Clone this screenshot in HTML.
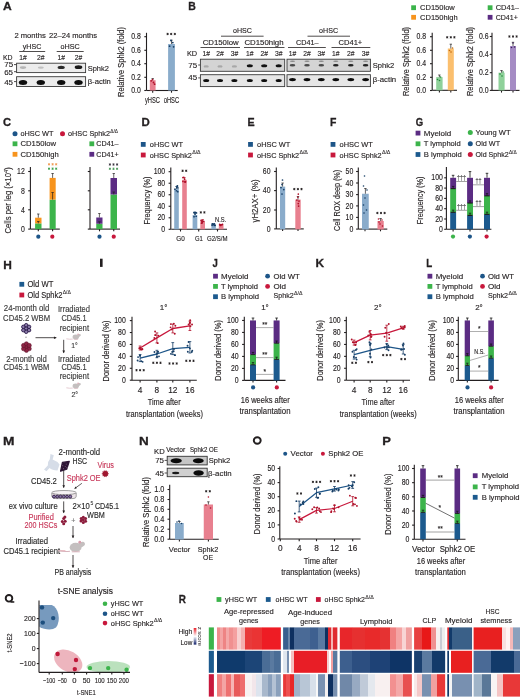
<!DOCTYPE html><html><head><meta charset="utf-8"><style>html,body{margin:0;padding:0;background:#fff;width:520px;height:699px;overflow:hidden}svg{display:block;filter:blur(0.3px)}text{font-family:"Liberation Sans", sans-serif}</style></head><body>
<svg width="520" height="699" viewBox="0 0 520 699" fill="#231f20" font-family='"Liberation Sans", sans-serif'>
<rect width="520" height="699" fill="#fff"/>
<text x="3.14" y="9.50" font-size="11.2" font-weight="bold" stroke="#231f20" stroke-width="0.3" textLength="8.73" lengthAdjust="spacingAndGlyphs">A</text>
<text x="14.40" y="38.27" font-size="7.96" stroke="#231f20" stroke-width="0.14" textLength="31.40" lengthAdjust="spacingAndGlyphs">2 months</text>
<text x="49.00" y="38.27" font-size="7.96" stroke="#231f20" stroke-width="0.14" textLength="48.10" lengthAdjust="spacingAndGlyphs">22–24 months</text>
<text x="22.70" y="49.37" font-size="7.96" stroke="#231f20" stroke-width="0.14" textLength="18.60" lengthAdjust="spacingAndGlyphs">yHSC</text>
<text x="60.60" y="49.37" font-size="7.96" stroke="#231f20" stroke-width="0.14" textLength="19.20" lengthAdjust="spacingAndGlyphs">oHSC</text>
<line x1="19.20" y1="51.50" x2="45.20" y2="51.50" stroke="#231f20" stroke-width="0.8" />
<line x1="56.70" y1="51.50" x2="83.70" y2="51.50" stroke="#231f20" stroke-width="0.8" />
<text x="2.90" y="60.37" font-size="7.96" stroke="#231f20" stroke-width="0.14" textLength="9.60" lengthAdjust="spacingAndGlyphs">KD</text>
<text x="23.00" y="60.37" font-size="7.96" text-anchor="middle" stroke="#231f20" stroke-width="0.14" textLength="7.50" lengthAdjust="spacingAndGlyphs">1#</text>
<text x="40.80" y="60.37" font-size="7.96" text-anchor="middle" stroke="#231f20" stroke-width="0.14" textLength="7.50" lengthAdjust="spacingAndGlyphs">2#</text>
<text x="61.20" y="60.37" font-size="7.96" text-anchor="middle" stroke="#231f20" stroke-width="0.14" textLength="7.50" lengthAdjust="spacingAndGlyphs">1#</text>
<text x="78.50" y="60.37" font-size="7.96" text-anchor="middle" stroke="#231f20" stroke-width="0.14" textLength="7.50" lengthAdjust="spacingAndGlyphs">2#</text>
<text x="13.20" y="67.42" font-size="7.96" text-anchor="end" stroke="#231f20" stroke-width="0.14">75</text>
<text x="13.00" y="74.52" font-size="7.96" text-anchor="end" stroke="#231f20" stroke-width="0.14">65</text>
<text x="13.00" y="84.62" font-size="7.96" text-anchor="end" stroke="#231f20" stroke-width="0.14">45</text>
<line x1="14.00" y1="64.60" x2="16.90" y2="64.60" stroke="#231f20" stroke-width="0.8" />
<line x1="14.00" y1="71.70" x2="16.90" y2="71.70" stroke="#231f20" stroke-width="0.8" />
<line x1="14.00" y1="81.60" x2="16.90" y2="81.60" stroke="#231f20" stroke-width="0.8" />
<rect x="16.60" y="63.20" width="69.00" height="9.40" fill="#ececec" stroke="#3a3a3a" stroke-width="0.9" />
<ellipse cx="23.00" cy="67.60" rx="3.20" ry="1.30" fill="#b5b5b5" />
<ellipse cx="40.80" cy="67.60" rx="3.00" ry="1.20" fill="#c0c0c0" />
<ellipse cx="61.20" cy="67.40" rx="3.60" ry="1.70" fill="#2a2a2a" />
<ellipse cx="78.50" cy="67.20" rx="3.80" ry="1.90" fill="#1a1a1a" />
<rect x="16.60" y="76.70" width="69.00" height="9.80" fill="#ececec" stroke="#3a3a3a" stroke-width="0.9" />
<ellipse cx="23.00" cy="82.40" rx="4.20" ry="2.50" fill="#0e0e0e" />
<ellipse cx="40.80" cy="82.40" rx="4.20" ry="2.50" fill="#0e0e0e" />
<ellipse cx="61.20" cy="82.40" rx="4.20" ry="2.50" fill="#0e0e0e" />
<ellipse cx="78.50" cy="82.40" rx="4.20" ry="2.50" fill="#0e0e0e" />
<text x="87.70" y="70.57" font-size="7.96" stroke="#231f20" stroke-width="0.14" textLength="21.20" lengthAdjust="spacingAndGlyphs">Sphk2</text>
<text x="87.70" y="84.37" font-size="7.96" stroke="#231f20" stroke-width="0.14" textLength="23.20" lengthAdjust="spacingAndGlyphs">β-actin</text>
<line x1="146.50" y1="32.80" x2="146.50" y2="90.50" stroke="#231f20" stroke-width="1.1" />
<line x1="144.30" y1="90.50" x2="146.50" y2="90.50" stroke="#231f20" stroke-width="1.1" />
<text x="140.80" y="93.18" font-size="8.28" text-anchor="end" stroke="#231f20" stroke-width="0.14" textLength="9.60" lengthAdjust="spacingAndGlyphs">0.0</text>
<line x1="144.30" y1="77.30" x2="146.50" y2="77.30" stroke="#231f20" stroke-width="1.1" />
<text x="140.80" y="79.98" font-size="8.28" text-anchor="end" stroke="#231f20" stroke-width="0.14" textLength="9.60" lengthAdjust="spacingAndGlyphs">0.2</text>
<line x1="144.30" y1="63.70" x2="146.50" y2="63.70" stroke="#231f20" stroke-width="1.1" />
<text x="140.80" y="66.38" font-size="8.28" text-anchor="end" stroke="#231f20" stroke-width="0.14" textLength="9.60" lengthAdjust="spacingAndGlyphs">0.4</text>
<line x1="144.30" y1="50.30" x2="146.50" y2="50.30" stroke="#231f20" stroke-width="1.1" />
<text x="140.80" y="52.98" font-size="8.28" text-anchor="end" stroke="#231f20" stroke-width="0.14" textLength="9.60" lengthAdjust="spacingAndGlyphs">0.6</text>
<line x1="144.30" y1="36.70" x2="146.50" y2="36.70" stroke="#231f20" stroke-width="1.1" />
<text x="140.80" y="39.38" font-size="8.28" text-anchor="end" stroke="#231f20" stroke-width="0.14" textLength="9.60" lengthAdjust="spacingAndGlyphs">0.8</text>
<line x1="146.50" y1="90.50" x2="177.70" y2="90.50" stroke="#231f20" stroke-width="1.1" />
<line x1="152.70" y1="90.50" x2="152.70" y2="92.70" stroke="#231f20" stroke-width="1.1" />
<line x1="171.50" y1="90.50" x2="171.50" y2="92.70" stroke="#231f20" stroke-width="1.1" />
<rect x="149.80" y="80.20" width="5.80" height="10.30" fill="#e8808f" />
<rect x="168.10" y="44.00" width="6.80" height="46.50" fill="#8aaccb" />
<line x1="152.70" y1="78.60" x2="152.70" y2="80.20" stroke="#231f20" stroke-width="0.7" />
<line x1="151.50" y1="78.60" x2="153.90" y2="78.60" stroke="#231f20" stroke-width="0.7" />
<line x1="171.50" y1="40.20" x2="171.50" y2="44.00" stroke="#231f20" stroke-width="0.7" />
<line x1="170.30" y1="40.20" x2="172.70" y2="40.20" stroke="#231f20" stroke-width="0.7" />
<circle cx="151.20" cy="80.80" r="0.90" fill="#b0102a"/>
<circle cx="153.50" cy="82.50" r="0.90" fill="#b0102a"/>
<circle cx="154.60" cy="84.20" r="0.90" fill="#b0102a"/>
<circle cx="152.50" cy="79.60" r="0.90" fill="#b0102a"/>
<circle cx="169.60" cy="46.20" r="0.90" fill="#163e66"/>
<circle cx="173.60" cy="46.80" r="0.90" fill="#163e66"/>
<circle cx="171.00" cy="40.50" r="0.90" fill="#163e66"/>
<circle cx="172.80" cy="42.60" r="0.90" fill="#163e66"/>
<path d="M167.60,32.85L167.60,35.15M168.60,33.42L166.60,34.58M168.60,34.58L166.60,33.42" stroke="#231f20" stroke-width="0.85" fill="none"/>
<path d="M171.20,32.85L171.20,35.15M172.20,33.42L170.20,34.58M172.20,34.58L170.20,33.42" stroke="#231f20" stroke-width="0.85" fill="none"/>
<path d="M174.80,32.85L174.80,35.15M175.80,33.42L173.80,34.58M175.80,34.58L173.80,33.42" stroke="#231f20" stroke-width="0.85" fill="none"/>
<text x="152.40" y="103.00" font-size="8.61" text-anchor="middle" stroke="#231f20" stroke-width="0.14" textLength="15.00" lengthAdjust="spacingAndGlyphs">yHSC</text>
<text x="171.40" y="103.00" font-size="8.61" text-anchor="middle" stroke="#231f20" stroke-width="0.14" textLength="15.40" lengthAdjust="spacingAndGlyphs">oHSC</text>
<text x="0" y="0" transform="translate(124.35,62.00) rotate(-90)" font-size="8.6" text-anchor="middle" stroke="#231f20" stroke-width="0.14" textLength="70.00" lengthAdjust="spacingAndGlyphs">Relative Sphk2 (fold)</text>
<text x="188.24" y="9.50" font-size="11.2" font-weight="bold" stroke="#231f20" stroke-width="0.3" textLength="7.59" lengthAdjust="spacingAndGlyphs">B</text>
<text x="242.50" y="33.37" font-size="7.96" text-anchor="middle" stroke="#231f20" stroke-width="0.14" textLength="19.00" lengthAdjust="spacingAndGlyphs">oHSC</text>
<line x1="221.00" y1="36.20" x2="263.60" y2="36.20" stroke="#231f20" stroke-width="0.8" />
<text x="202.70" y="44.57" font-size="7.96" stroke="#231f20" stroke-width="0.14" textLength="35.90" lengthAdjust="spacingAndGlyphs">CD150low</text>
<text x="244.40" y="44.57" font-size="7.96" stroke="#231f20" stroke-width="0.14" textLength="39.20" lengthAdjust="spacingAndGlyphs">CD150high</text>
<line x1="200.50" y1="47.50" x2="240.00" y2="47.50" stroke="#231f20" stroke-width="0.8" />
<line x1="244.00" y1="47.50" x2="284.50" y2="47.50" stroke="#231f20" stroke-width="0.8" />
<text x="328.60" y="33.37" font-size="7.96" text-anchor="middle" stroke="#231f20" stroke-width="0.14" textLength="19.00" lengthAdjust="spacingAndGlyphs">oHSC</text>
<line x1="307.50" y1="36.20" x2="350.00" y2="36.20" stroke="#231f20" stroke-width="0.8" />
<text x="296.00" y="44.57" font-size="7.96" stroke="#231f20" stroke-width="0.14" textLength="22.50" lengthAdjust="spacingAndGlyphs">CD41–</text>
<text x="338.50" y="44.57" font-size="7.96" stroke="#231f20" stroke-width="0.14" textLength="23.80" lengthAdjust="spacingAndGlyphs">CD41+</text>
<line x1="288.00" y1="47.50" x2="325.80" y2="47.50" stroke="#231f20" stroke-width="0.8" />
<line x1="331.50" y1="47.50" x2="370.30" y2="47.50" stroke="#231f20" stroke-width="0.8" />
<text x="186.90" y="55.97" font-size="7.96" stroke="#231f20" stroke-width="0.14" textLength="10.20" lengthAdjust="spacingAndGlyphs">KD</text>
<text x="206.20" y="55.87" font-size="7.96" text-anchor="middle" stroke="#231f20" stroke-width="0.14" textLength="7.50" lengthAdjust="spacingAndGlyphs">1#</text>
<text x="220.00" y="55.87" font-size="7.96" text-anchor="middle" stroke="#231f20" stroke-width="0.14" textLength="7.50" lengthAdjust="spacingAndGlyphs">2#</text>
<text x="234.40" y="55.87" font-size="7.96" text-anchor="middle" stroke="#231f20" stroke-width="0.14" textLength="7.50" lengthAdjust="spacingAndGlyphs">3#</text>
<text x="249.80" y="55.87" font-size="7.96" text-anchor="middle" stroke="#231f20" stroke-width="0.14" textLength="7.50" lengthAdjust="spacingAndGlyphs">1#</text>
<text x="264.20" y="55.87" font-size="7.96" text-anchor="middle" stroke="#231f20" stroke-width="0.14" textLength="7.50" lengthAdjust="spacingAndGlyphs">2#</text>
<text x="278.70" y="55.87" font-size="7.96" text-anchor="middle" stroke="#231f20" stroke-width="0.14" textLength="7.50" lengthAdjust="spacingAndGlyphs">3#</text>
<text x="292.50" y="55.87" font-size="7.96" text-anchor="middle" stroke="#231f20" stroke-width="0.14" textLength="7.50" lengthAdjust="spacingAndGlyphs">1#</text>
<text x="307.00" y="55.87" font-size="7.96" text-anchor="middle" stroke="#231f20" stroke-width="0.14" textLength="7.50" lengthAdjust="spacingAndGlyphs">2#</text>
<text x="321.30" y="55.87" font-size="7.96" text-anchor="middle" stroke="#231f20" stroke-width="0.14" textLength="7.50" lengthAdjust="spacingAndGlyphs">3#</text>
<text x="335.80" y="55.87" font-size="7.96" text-anchor="middle" stroke="#231f20" stroke-width="0.14" textLength="7.50" lengthAdjust="spacingAndGlyphs">1#</text>
<text x="350.80" y="55.87" font-size="7.96" text-anchor="middle" stroke="#231f20" stroke-width="0.14" textLength="7.50" lengthAdjust="spacingAndGlyphs">2#</text>
<text x="365.60" y="55.87" font-size="7.96" text-anchor="middle" stroke="#231f20" stroke-width="0.14" textLength="7.50" lengthAdjust="spacingAndGlyphs">3#</text>
<text x="197.20" y="67.57" font-size="7.96" text-anchor="end" stroke="#231f20" stroke-width="0.14">75</text>
<text x="197.20" y="80.47" font-size="7.96" text-anchor="end" stroke="#231f20" stroke-width="0.14">45</text>
<line x1="198.20" y1="65.00" x2="200.40" y2="65.00" stroke="#231f20" stroke-width="0.8" />
<line x1="198.20" y1="77.90" x2="200.40" y2="77.90" stroke="#231f20" stroke-width="0.8" />
<rect x="200.40" y="59.20" width="84.30" height="12.10" fill="#d4d4d4" stroke="#3a3a3a" stroke-width="0.9" />
<rect x="200.40" y="74.70" width="84.30" height="11.90" fill="#e6e6e6" stroke="#3a3a3a" stroke-width="0.9" />
<rect x="287.00" y="59.20" width="83.40" height="12.10" fill="#d4d4d4" stroke="#3a3a3a" stroke-width="0.9" />
<rect x="287.00" y="74.70" width="83.40" height="11.90" fill="#e6e6e6" stroke="#3a3a3a" stroke-width="0.9" />
<ellipse cx="206.20" cy="66.40" rx="2.60" ry="1.20" fill="#a8a8a8" />
<ellipse cx="206.20" cy="80.60" rx="3.00" ry="1.50" fill="#0e0e0e" />
<ellipse cx="220.00" cy="66.40" rx="2.60" ry="1.20" fill="#a8a8a8" />
<ellipse cx="220.00" cy="80.60" rx="3.00" ry="1.50" fill="#0e0e0e" />
<ellipse cx="234.40" cy="66.40" rx="2.60" ry="1.20" fill="#a8a8a8" />
<ellipse cx="234.40" cy="80.60" rx="3.00" ry="1.50" fill="#0e0e0e" />
<ellipse cx="249.80" cy="65.80" rx="3.00" ry="1.50" fill="#111" />
<ellipse cx="249.80" cy="80.60" rx="3.00" ry="1.50" fill="#0e0e0e" />
<ellipse cx="264.20" cy="65.80" rx="3.00" ry="1.50" fill="#111" />
<ellipse cx="264.20" cy="80.60" rx="3.00" ry="1.50" fill="#0e0e0e" />
<ellipse cx="278.70" cy="65.80" rx="3.00" ry="1.50" fill="#111" />
<ellipse cx="278.70" cy="80.60" rx="3.00" ry="1.50" fill="#0e0e0e" />
<ellipse cx="292.50" cy="61.20" rx="2.60" ry="0.70" fill="#8a8a8a" />
<ellipse cx="292.50" cy="65.20" rx="2.80" ry="1.30" fill="#4a4a4a" />
<ellipse cx="292.50" cy="79.60" rx="3.40" ry="1.70" fill="#0a0a0a" />
<ellipse cx="307.00" cy="61.20" rx="2.60" ry="0.70" fill="#8a8a8a" />
<ellipse cx="307.00" cy="65.20" rx="2.80" ry="1.30" fill="#4a4a4a" />
<ellipse cx="307.00" cy="79.60" rx="3.40" ry="1.70" fill="#0a0a0a" />
<ellipse cx="321.30" cy="61.20" rx="2.60" ry="0.70" fill="#8a8a8a" />
<ellipse cx="321.30" cy="65.20" rx="2.80" ry="1.30" fill="#4a4a4a" />
<ellipse cx="321.30" cy="79.60" rx="3.40" ry="1.70" fill="#0a0a0a" />
<ellipse cx="335.80" cy="61.20" rx="2.60" ry="0.70" fill="#8a8a8a" />
<ellipse cx="335.80" cy="65.20" rx="2.80" ry="1.30" fill="#222" />
<ellipse cx="335.80" cy="79.60" rx="3.40" ry="1.70" fill="#0a0a0a" />
<ellipse cx="350.80" cy="61.20" rx="2.60" ry="0.70" fill="#8a8a8a" />
<ellipse cx="350.80" cy="65.20" rx="2.80" ry="1.30" fill="#222" />
<ellipse cx="350.80" cy="79.60" rx="3.40" ry="1.70" fill="#0a0a0a" />
<ellipse cx="365.60" cy="61.20" rx="2.60" ry="0.70" fill="#8a8a8a" />
<ellipse cx="365.60" cy="65.20" rx="2.80" ry="1.30" fill="#222" />
<ellipse cx="365.60" cy="79.60" rx="3.40" ry="1.70" fill="#0a0a0a" />
<text x="372.70" y="67.77" font-size="7.96" stroke="#231f20" stroke-width="0.14" textLength="21.50" lengthAdjust="spacingAndGlyphs">Sphk2</text>
<text x="372.70" y="82.37" font-size="7.96" stroke="#231f20" stroke-width="0.14" textLength="23.50" lengthAdjust="spacingAndGlyphs">β-actin</text>
<rect x="411.20" y="5.30" width="4.80" height="4.80" fill="#3cb44b" />
<text x="420.00" y="10.07" font-size="7.96" stroke="#231f20" stroke-width="0.14" textLength="34.80" lengthAdjust="spacingAndGlyphs">CD150low</text>
<rect x="411.20" y="14.90" width="4.80" height="4.80" fill="#f7941d" />
<text x="420.00" y="19.67" font-size="7.96" stroke="#231f20" stroke-width="0.14" textLength="37.70" lengthAdjust="spacingAndGlyphs">CD150high</text>
<rect x="487.70" y="5.30" width="4.80" height="4.80" fill="#3cb44b" />
<text x="495.70" y="10.07" font-size="7.96" stroke="#231f20" stroke-width="0.14" textLength="23.30" lengthAdjust="spacingAndGlyphs">CD41–</text>
<rect x="487.70" y="14.90" width="4.80" height="4.80" fill="#5b2c83" />
<text x="495.70" y="19.67" font-size="7.96" stroke="#231f20" stroke-width="0.14" textLength="22.10" lengthAdjust="spacingAndGlyphs">CD41+</text>
<line x1="432.20" y1="32.80" x2="432.20" y2="90.30" stroke="#231f20" stroke-width="1.1" />
<line x1="430.00" y1="90.50" x2="432.20" y2="90.50" stroke="#231f20" stroke-width="1.1" />
<text x="426.10" y="93.18" font-size="8.28" text-anchor="end" stroke="#231f20" stroke-width="0.14" textLength="9.60" lengthAdjust="spacingAndGlyphs">0.0</text>
<line x1="430.00" y1="77.30" x2="432.20" y2="77.30" stroke="#231f20" stroke-width="1.1" />
<text x="426.10" y="79.98" font-size="8.28" text-anchor="end" stroke="#231f20" stroke-width="0.14" textLength="9.60" lengthAdjust="spacingAndGlyphs">0.2</text>
<line x1="430.00" y1="63.70" x2="432.20" y2="63.70" stroke="#231f20" stroke-width="1.1" />
<text x="426.10" y="66.38" font-size="8.28" text-anchor="end" stroke="#231f20" stroke-width="0.14" textLength="9.60" lengthAdjust="spacingAndGlyphs">0.4</text>
<line x1="430.00" y1="50.30" x2="432.20" y2="50.30" stroke="#231f20" stroke-width="1.1" />
<text x="426.10" y="52.98" font-size="8.28" text-anchor="end" stroke="#231f20" stroke-width="0.14" textLength="9.60" lengthAdjust="spacingAndGlyphs">0.6</text>
<line x1="430.00" y1="36.70" x2="432.20" y2="36.70" stroke="#231f20" stroke-width="1.1" />
<text x="426.10" y="39.38" font-size="8.28" text-anchor="end" stroke="#231f20" stroke-width="0.14" textLength="9.60" lengthAdjust="spacingAndGlyphs">0.8</text>
<line x1="432.20" y1="90.30" x2="457.00" y2="90.30" stroke="#231f20" stroke-width="1.1" />
<line x1="439.40" y1="90.30" x2="439.40" y2="92.50" stroke="#231f20" stroke-width="1.1" />
<line x1="450.80" y1="90.30" x2="450.80" y2="92.50" stroke="#231f20" stroke-width="1.1" />
<rect x="436.20" y="77.10" width="6.40" height="13.20" fill="#8fd19a" />
<rect x="447.80" y="48.50" width="6.00" height="41.80" fill="#fbbf6e" />
<line x1="439.40" y1="75.00" x2="439.40" y2="77.10" stroke="#231f20" stroke-width="0.7" />
<line x1="438.20" y1="75.00" x2="440.60" y2="75.00" stroke="#231f20" stroke-width="0.7" />
<line x1="450.80" y1="44.20" x2="450.80" y2="48.50" stroke="#231f20" stroke-width="0.7" />
<line x1="449.60" y1="44.20" x2="452.00" y2="44.20" stroke="#231f20" stroke-width="0.7" />
<circle cx="437.50" cy="79.50" r="0.80" fill="#23883a"/>
<circle cx="440.50" cy="77.00" r="0.80" fill="#23883a"/>
<circle cx="439.50" cy="80.50" r="0.80" fill="#23883a"/>
<circle cx="449.50" cy="50.50" r="0.80" fill="#c26a0c"/>
<circle cx="452.50" cy="48.00" r="0.80" fill="#c26a0c"/>
<circle cx="451.00" cy="52.00" r="0.80" fill="#c26a0c"/>
<path d="M447.20,36.15L447.20,38.45M448.20,36.72L446.20,37.88M448.20,37.88L446.20,36.72" stroke="#231f20" stroke-width="0.85" fill="none"/>
<path d="M450.80,36.15L450.80,38.45M451.80,36.72L449.80,37.88M451.80,37.88L449.80,36.72" stroke="#231f20" stroke-width="0.85" fill="none"/>
<path d="M454.40,36.15L454.40,38.45M455.40,36.72L453.40,37.88M455.40,37.88L453.40,36.72" stroke="#231f20" stroke-width="0.85" fill="none"/>
<text x="0" y="0" transform="translate(409.30,61.50) rotate(-90)" font-size="8.6" text-anchor="middle" stroke="#231f20" stroke-width="0.14" textLength="69.00" lengthAdjust="spacingAndGlyphs">Relative Sphk2 (fold)</text>
<line x1="492.00" y1="32.80" x2="492.00" y2="90.30" stroke="#231f20" stroke-width="1.1" />
<line x1="489.80" y1="90.40" x2="492.00" y2="90.40" stroke="#231f20" stroke-width="1.1" />
<text x="488.60" y="93.08" font-size="8.28" text-anchor="end" stroke="#231f20" stroke-width="0.14" textLength="9.60" lengthAdjust="spacingAndGlyphs">0.0</text>
<line x1="489.80" y1="72.70" x2="492.00" y2="72.70" stroke="#231f20" stroke-width="1.1" />
<text x="488.60" y="75.38" font-size="8.28" text-anchor="end" stroke="#231f20" stroke-width="0.14" textLength="9.60" lengthAdjust="spacingAndGlyphs">0.2</text>
<line x1="489.80" y1="54.40" x2="492.00" y2="54.40" stroke="#231f20" stroke-width="1.1" />
<text x="488.60" y="57.08" font-size="8.28" text-anchor="end" stroke="#231f20" stroke-width="0.14" textLength="9.60" lengthAdjust="spacingAndGlyphs">0.4</text>
<line x1="489.80" y1="36.50" x2="492.00" y2="36.50" stroke="#231f20" stroke-width="1.1" />
<text x="488.60" y="39.18" font-size="8.28" text-anchor="end" stroke="#231f20" stroke-width="0.14" textLength="9.60" lengthAdjust="spacingAndGlyphs">0.6</text>
<line x1="492.00" y1="90.40" x2="519.50" y2="90.40" stroke="#231f20" stroke-width="1.1" />
<line x1="501.50" y1="90.40" x2="501.50" y2="92.60" stroke="#231f20" stroke-width="1.1" />
<line x1="513.00" y1="90.40" x2="513.00" y2="92.60" stroke="#231f20" stroke-width="1.1" />
<rect x="498.50" y="72.70" width="6.10" height="17.70" fill="#8fd19a" />
<rect x="510.00" y="46.00" width="6.00" height="44.40" fill="#a58cc4" />
<line x1="501.50" y1="70.50" x2="501.50" y2="72.70" stroke="#231f20" stroke-width="0.7" />
<line x1="500.30" y1="70.50" x2="502.70" y2="70.50" stroke="#231f20" stroke-width="0.7" />
<line x1="513.00" y1="42.30" x2="513.00" y2="46.00" stroke="#231f20" stroke-width="0.7" />
<line x1="511.80" y1="42.30" x2="514.20" y2="42.30" stroke="#231f20" stroke-width="0.7" />
<circle cx="500.00" cy="74.00" r="0.80" fill="#23883a"/>
<circle cx="503.00" cy="72.00" r="0.80" fill="#23883a"/>
<circle cx="502.00" cy="76.00" r="0.80" fill="#23883a"/>
<circle cx="511.50" cy="47.50" r="0.80" fill="#3d1e5e"/>
<circle cx="514.50" cy="47.00" r="0.80" fill="#3d1e5e"/>
<circle cx="513.00" cy="43.00" r="0.80" fill="#3d1e5e"/>
<path d="M509.40,35.35L509.40,37.65M510.40,35.92L508.40,37.08M510.40,37.08L508.40,35.92" stroke="#231f20" stroke-width="0.85" fill="none"/>
<path d="M513.00,35.35L513.00,37.65M514.00,35.92L512.00,37.08M514.00,37.08L512.00,35.92" stroke="#231f20" stroke-width="0.85" fill="none"/>
<path d="M516.60,35.35L516.60,37.65M517.60,35.92L515.60,37.08M517.60,37.08L515.60,35.92" stroke="#231f20" stroke-width="0.85" fill="none"/>
<text x="0" y="0" transform="translate(473.30,61.50) rotate(-90)" font-size="8.6" text-anchor="middle" stroke="#231f20" stroke-width="0.14" textLength="69.00" lengthAdjust="spacingAndGlyphs">Relative Sphk2 (fold)</text>
<text x="2.99" y="126.40" font-size="11.2" font-weight="bold" stroke="#231f20" stroke-width="0.3" textLength="8.08" lengthAdjust="spacingAndGlyphs">C</text>
<circle cx="15.00" cy="133.75" r="2.50" fill="#1d5588"/>
<text x="20.50" y="136.32" font-size="7.96" stroke="#231f20" stroke-width="0.14" textLength="33.00" lengthAdjust="spacingAndGlyphs">oHSC WT</text>
<circle cx="62.50" cy="133.75" r="2.50" fill="#c8183c"/>
<text x="68.00" y="136.32" font-size="7.96" stroke="#231f20" stroke-width="0.14"><tspan textLength="42.00" lengthAdjust="spacingAndGlyphs">oHSC Sphk2</tspan><tspan font-size="4.776" dy="-3.18" dx="0.3" stroke-width="0.08">Δ/Δ</tspan></text>
<rect x="12.60" y="141.40" width="4.80" height="4.80" fill="#3cb44b" />
<text x="20.50" y="146.32" font-size="7.96" stroke="#231f20" stroke-width="0.14" textLength="35.50" lengthAdjust="spacingAndGlyphs">CD150low</text>
<rect x="12.60" y="151.90" width="4.80" height="4.80" fill="#f7941d" />
<text x="20.50" y="156.82" font-size="7.96" stroke="#231f20" stroke-width="0.14" textLength="38.30" lengthAdjust="spacingAndGlyphs">CD150high</text>
<rect x="89.40" y="141.40" width="4.80" height="4.80" fill="#3cb44b" />
<text x="96.30" y="146.32" font-size="7.96" stroke="#231f20" stroke-width="0.14" textLength="22.30" lengthAdjust="spacingAndGlyphs">CD41–</text>
<rect x="89.40" y="151.90" width="4.80" height="4.80" fill="#5b2c83" />
<text x="96.30" y="156.82" font-size="7.96" stroke="#231f20" stroke-width="0.14" textLength="22.30" lengthAdjust="spacingAndGlyphs">CD41+</text>
<line x1="30.40" y1="167.00" x2="30.40" y2="229.10" stroke="#231f20" stroke-width="1.1" />
<line x1="28.20" y1="229.10" x2="30.40" y2="229.10" stroke="#231f20" stroke-width="1.1" />
<text x="24.80" y="231.86" font-size="8.5" text-anchor="end" stroke="#231f20" stroke-width="0.14" textLength="3.85" lengthAdjust="spacingAndGlyphs">0</text>
<line x1="28.20" y1="209.80" x2="30.40" y2="209.80" stroke="#231f20" stroke-width="1.1" />
<text x="24.80" y="212.56" font-size="8.5" text-anchor="end" stroke="#231f20" stroke-width="0.14" textLength="3.85" lengthAdjust="spacingAndGlyphs">4</text>
<line x1="28.20" y1="190.80" x2="30.40" y2="190.80" stroke="#231f20" stroke-width="1.1" />
<text x="24.80" y="193.56" font-size="8.5" text-anchor="end" stroke="#231f20" stroke-width="0.14" textLength="3.85" lengthAdjust="spacingAndGlyphs">8</text>
<line x1="28.20" y1="171.50" x2="30.40" y2="171.50" stroke="#231f20" stroke-width="1.1" />
<text x="24.80" y="174.26" font-size="8.5" text-anchor="end" stroke="#231f20" stroke-width="0.14" textLength="7.70" lengthAdjust="spacingAndGlyphs">12</text>
<line x1="30.40" y1="229.10" x2="59.80" y2="229.10" stroke="#231f20" stroke-width="1.1" />
<line x1="38.30" y1="229.10" x2="38.30" y2="231.30" stroke="#231f20" stroke-width="1.1" />
<line x1="52.60" y1="229.10" x2="52.60" y2="231.30" stroke="#231f20" stroke-width="1.1" />
<rect x="35.10" y="223.40" width="6.40" height="5.70" fill="#3cb44b" />
<rect x="35.10" y="217.70" width="6.40" height="5.70" fill="#f7941d" />
<line x1="38.30" y1="214.00" x2="38.30" y2="217.70" stroke="#231f20" stroke-width="0.7" />
<line x1="37.10" y1="214.00" x2="39.50" y2="214.00" stroke="#231f20" stroke-width="0.7" />
<line x1="38.30" y1="221.50" x2="38.30" y2="223.40" stroke="#231f20" stroke-width="0.7" />
<line x1="37.10" y1="221.50" x2="39.50" y2="221.50" stroke="#231f20" stroke-width="0.7" />
<rect x="49.60" y="199.60" width="6.10" height="29.50" fill="#3cb44b" />
<rect x="49.60" y="177.90" width="6.10" height="21.70" fill="#f7941d" />
<line x1="52.60" y1="173.50" x2="52.60" y2="177.90" stroke="#231f20" stroke-width="0.7" />
<line x1="51.40" y1="173.50" x2="53.80" y2="173.50" stroke="#231f20" stroke-width="0.7" />
<line x1="52.60" y1="192.50" x2="52.60" y2="199.60" stroke="#231f20" stroke-width="0.7" />
<line x1="51.40" y1="192.50" x2="53.80" y2="192.50" stroke="#231f20" stroke-width="0.7" />
<path d="M49.00,163.15L49.00,165.45M50.00,163.73L48.00,164.88M50.00,164.88L48.00,163.73" stroke="#f09a50" stroke-width="0.85" fill="none"/>
<path d="M52.60,163.15L52.60,165.45M53.60,163.73L51.60,164.88M53.60,164.88L51.60,163.73" stroke="#f09a50" stroke-width="0.85" fill="none"/>
<path d="M56.20,163.15L56.20,165.45M57.20,163.73L55.20,164.88M57.20,164.88L55.20,163.73" stroke="#f09a50" stroke-width="0.85" fill="none"/>
<path d="M49.00,167.55L49.00,169.85M50.00,168.12L48.00,169.27M50.00,169.27L48.00,168.12" stroke="#3aa04c" stroke-width="0.85" fill="none"/>
<path d="M52.60,167.55L52.60,169.85M53.60,168.12L51.60,169.27M53.60,169.27L51.60,168.12" stroke="#3aa04c" stroke-width="0.85" fill="none"/>
<path d="M56.20,167.55L56.20,169.85M57.20,168.12L55.20,169.27M57.20,169.27L55.20,168.12" stroke="#3aa04c" stroke-width="0.85" fill="none"/>
<circle cx="38.30" cy="236.70" r="2.10" fill="#1d5588"/>
<circle cx="52.30" cy="236.70" r="2.10" fill="#c8183c"/>
<line x1="90.00" y1="167.00" x2="90.00" y2="229.10" stroke="#231f20" stroke-width="1.1" />
<line x1="87.80" y1="229.10" x2="90.00" y2="229.10" stroke="#231f20" stroke-width="1.1" />
<line x1="87.80" y1="209.80" x2="90.00" y2="209.80" stroke="#231f20" stroke-width="1.1" />
<line x1="87.80" y1="190.80" x2="90.00" y2="190.80" stroke="#231f20" stroke-width="1.1" />
<line x1="87.80" y1="171.50" x2="90.00" y2="171.50" stroke="#231f20" stroke-width="1.1" />
<line x1="90.00" y1="229.10" x2="120.00" y2="229.10" stroke="#231f20" stroke-width="1.1" />
<line x1="99.50" y1="229.10" x2="99.50" y2="231.30" stroke="#231f20" stroke-width="1.1" />
<line x1="113.75" y1="229.10" x2="113.75" y2="231.30" stroke="#231f20" stroke-width="1.1" />
<rect x="96.25" y="223.75" width="6.25" height="5.35" fill="#3cb44b" />
<rect x="96.25" y="217.50" width="6.25" height="6.25" fill="#5b2c83" />
<line x1="99.40" y1="213.50" x2="99.40" y2="217.50" stroke="#231f20" stroke-width="0.7" />
<line x1="98.20" y1="213.50" x2="100.60" y2="213.50" stroke="#231f20" stroke-width="0.7" />
<line x1="99.40" y1="221.80" x2="99.40" y2="223.75" stroke="#231f20" stroke-width="0.7" />
<line x1="98.20" y1="221.80" x2="100.60" y2="221.80" stroke="#231f20" stroke-width="0.7" />
<rect x="110.50" y="194.50" width="6.50" height="34.60" fill="#3cb44b" />
<rect x="110.50" y="178.00" width="6.50" height="16.50" fill="#5b2c83" />
<line x1="113.75" y1="173.50" x2="113.75" y2="178.00" stroke="#231f20" stroke-width="0.7" />
<line x1="112.55" y1="173.50" x2="114.95" y2="173.50" stroke="#231f20" stroke-width="0.7" />
<line x1="113.75" y1="192.00" x2="113.75" y2="194.50" stroke="#231f20" stroke-width="0.7" />
<line x1="112.55" y1="192.00" x2="114.95" y2="192.00" stroke="#231f20" stroke-width="0.7" />
<path d="M109.90,163.35L109.90,165.65M110.90,163.93L108.90,165.07M110.90,165.07L108.90,163.93" stroke="#3a3440" stroke-width="0.85" fill="none"/>
<path d="M113.50,163.35L113.50,165.65M114.50,163.93L112.50,165.07M114.50,165.07L112.50,163.93" stroke="#3a3440" stroke-width="0.85" fill="none"/>
<path d="M117.10,163.35L117.10,165.65M118.10,163.93L116.10,165.07M118.10,165.07L116.10,163.93" stroke="#3a3440" stroke-width="0.85" fill="none"/>
<path d="M109.90,167.65L109.90,169.95M110.90,168.23L108.90,169.38M110.90,169.38L108.90,168.23" stroke="#4a9a5a" stroke-width="0.85" fill="none"/>
<path d="M113.50,167.65L113.50,169.95M114.50,168.23L112.50,169.38M114.50,169.38L112.50,168.23" stroke="#4a9a5a" stroke-width="0.85" fill="none"/>
<path d="M117.10,167.65L117.10,169.95M118.10,168.23L116.10,169.38M118.10,169.38L116.10,168.23" stroke="#4a9a5a" stroke-width="0.85" fill="none"/>
<circle cx="99.50" cy="236.70" r="2.10" fill="#1d5588"/>
<circle cx="113.75" cy="236.70" r="2.10" fill="#c8183c"/>
<text x="0" y="0" transform="translate(11.40,200.30) rotate(-90)" font-size="8.6" text-anchor="middle" stroke="#231f20" stroke-width="0.14"><tspan textLength="60.50" lengthAdjust="spacingAndGlyphs">Cells per leg (×10</tspan><tspan font-size="5.159999999999999" dy="-3.44" textLength="3.20" lengthAdjust="spacingAndGlyphs">4</tspan><tspan dy="3.44">)</tspan></text>
<text x="141.48" y="126.40" font-size="11.2" font-weight="bold" stroke="#231f20" stroke-width="0.3" textLength="8.26" lengthAdjust="spacingAndGlyphs">D</text>
<rect x="140.85" y="142.00" width="4.80" height="4.80" fill="#1d5588" />
<text x="149.75" y="146.97" font-size="7.96" stroke="#231f20" stroke-width="0.14" textLength="33.40" lengthAdjust="spacingAndGlyphs">oHSC WT</text>
<rect x="140.85" y="152.60" width="4.80" height="4.80" fill="#c8183c" />
<text x="149.75" y="157.57" font-size="7.96" stroke="#231f20" stroke-width="0.14"><tspan textLength="42.10" lengthAdjust="spacingAndGlyphs">oHSC Sphk2</tspan><tspan font-size="4.776" dy="-3.18" dx="0.3" stroke-width="0.08" textLength="8.50" lengthAdjust="spacingAndGlyphs">Δ/Δ</tspan></text>
<line x1="170.80" y1="167.50" x2="170.80" y2="229.30" stroke="#231f20" stroke-width="1.1" />
<line x1="168.60" y1="229.30" x2="170.80" y2="229.30" stroke="#231f20" stroke-width="1.1" />
<text x="165.20" y="231.98" font-size="8.28" text-anchor="end" stroke="#231f20" stroke-width="0.14" textLength="3.85" lengthAdjust="spacingAndGlyphs">0</text>
<line x1="168.60" y1="217.78" x2="170.80" y2="217.78" stroke="#231f20" stroke-width="1.1" />
<text x="165.20" y="220.46" font-size="8.28" text-anchor="end" stroke="#231f20" stroke-width="0.14" textLength="7.70" lengthAdjust="spacingAndGlyphs">20</text>
<line x1="168.60" y1="206.26" x2="170.80" y2="206.26" stroke="#231f20" stroke-width="1.1" />
<text x="165.20" y="208.94" font-size="8.28" text-anchor="end" stroke="#231f20" stroke-width="0.14" textLength="7.70" lengthAdjust="spacingAndGlyphs">40</text>
<line x1="168.60" y1="194.74" x2="170.80" y2="194.74" stroke="#231f20" stroke-width="1.1" />
<text x="165.20" y="197.42" font-size="8.28" text-anchor="end" stroke="#231f20" stroke-width="0.14" textLength="7.70" lengthAdjust="spacingAndGlyphs">60</text>
<line x1="168.60" y1="183.22" x2="170.80" y2="183.22" stroke="#231f20" stroke-width="1.1" />
<text x="165.20" y="185.90" font-size="8.28" text-anchor="end" stroke="#231f20" stroke-width="0.14" textLength="7.70" lengthAdjust="spacingAndGlyphs">80</text>
<line x1="168.60" y1="171.70" x2="170.80" y2="171.70" stroke="#231f20" stroke-width="1.1" />
<text x="165.20" y="174.38" font-size="8.28" text-anchor="end" stroke="#231f20" stroke-width="0.14" textLength="11.55" lengthAdjust="spacingAndGlyphs">100</text>
<line x1="171.20" y1="229.30" x2="227.00" y2="229.30" stroke="#231f20" stroke-width="1.1" />
<line x1="180.50" y1="229.30" x2="180.50" y2="231.50" stroke="#231f20" stroke-width="1.1" />
<line x1="198.70" y1="229.30" x2="198.70" y2="231.50" stroke="#231f20" stroke-width="1.1" />
<line x1="217.50" y1="229.30" x2="217.50" y2="231.50" stroke="#231f20" stroke-width="1.1" />
<rect x="174.20" y="188.98" width="4.60" height="40.32" fill="#8aaccb" />
<line x1="176.50" y1="186.56" x2="176.50" y2="188.98" stroke="#163e66" stroke-width="0.8" />
<line x1="175.30" y1="186.56" x2="177.70" y2="186.56" stroke="#163e66" stroke-width="0.8" />
<circle cx="176.89" cy="187.31" r="0.85" fill="#163e66"/>
<circle cx="177.44" cy="185.92" r="0.85" fill="#163e66"/>
<circle cx="177.27" cy="186.06" r="0.85" fill="#163e66"/>
<circle cx="174.99" cy="189.22" r="0.85" fill="#163e66"/>
<circle cx="177.92" cy="187.95" r="0.85" fill="#163e66"/>
<circle cx="177.78" cy="191.65" r="0.85" fill="#163e66"/>
<circle cx="176.40" cy="190.73" r="0.85" fill="#163e66"/>
<rect x="182.20" y="179.76" width="4.60" height="49.54" fill="#e8808f" />
<line x1="184.50" y1="177.75" x2="184.50" y2="179.76" stroke="#b0102a" stroke-width="0.8" />
<line x1="183.30" y1="177.75" x2="185.70" y2="177.75" stroke="#b0102a" stroke-width="0.8" />
<circle cx="184.64" cy="179.34" r="0.85" fill="#b0102a"/>
<circle cx="182.94" cy="181.40" r="0.85" fill="#b0102a"/>
<circle cx="183.79" cy="177.37" r="0.85" fill="#b0102a"/>
<circle cx="185.35" cy="181.72" r="0.85" fill="#b0102a"/>
<circle cx="185.45" cy="181.84" r="0.85" fill="#b0102a"/>
<circle cx="184.88" cy="181.91" r="0.85" fill="#b0102a"/>
<circle cx="182.91" cy="177.62" r="0.85" fill="#b0102a"/>
<rect x="192.60" y="215.07" width="4.70" height="14.23" fill="#8aaccb" />
<line x1="194.95" y1="213.06" x2="194.95" y2="215.07" stroke="#163e66" stroke-width="0.8" />
<line x1="193.75" y1="213.06" x2="196.15" y2="213.06" stroke="#163e66" stroke-width="0.8" />
<circle cx="194.02" cy="216.71" r="0.85" fill="#163e66"/>
<circle cx="196.49" cy="212.93" r="0.85" fill="#163e66"/>
<circle cx="194.28" cy="212.41" r="0.85" fill="#163e66"/>
<circle cx="195.08" cy="214.05" r="0.85" fill="#163e66"/>
<circle cx="194.01" cy="212.53" r="0.85" fill="#163e66"/>
<circle cx="195.56" cy="212.39" r="0.85" fill="#163e66"/>
<circle cx="196.21" cy="216.23" r="0.85" fill="#163e66"/>
<rect x="200.30" y="221.24" width="4.70" height="8.06" fill="#e8808f" />
<line x1="202.65" y1="219.62" x2="202.65" y2="221.24" stroke="#b0102a" stroke-width="0.8" />
<line x1="201.45" y1="219.62" x2="203.85" y2="219.62" stroke="#b0102a" stroke-width="0.8" />
<circle cx="202.21" cy="222.78" r="0.85" fill="#b0102a"/>
<circle cx="201.52" cy="223.24" r="0.85" fill="#b0102a"/>
<circle cx="202.01" cy="220.76" r="0.85" fill="#b0102a"/>
<circle cx="201.06" cy="220.42" r="0.85" fill="#b0102a"/>
<circle cx="202.13" cy="222.11" r="0.85" fill="#b0102a"/>
<circle cx="203.67" cy="221.32" r="0.85" fill="#b0102a"/>
<circle cx="202.06" cy="221.32" r="0.85" fill="#b0102a"/>
<rect x="211.40" y="224.52" width="4.50" height="4.78" fill="#8aaccb" />
<line x1="213.65" y1="223.91" x2="213.65" y2="224.52" stroke="#163e66" stroke-width="0.8" />
<line x1="212.45" y1="223.91" x2="214.85" y2="223.91" stroke="#163e66" stroke-width="0.8" />
<circle cx="214.30" cy="225.28" r="0.85" fill="#163e66"/>
<circle cx="215.17" cy="225.34" r="0.85" fill="#163e66"/>
<circle cx="214.45" cy="223.92" r="0.85" fill="#163e66"/>
<circle cx="212.11" cy="224.02" r="0.85" fill="#163e66"/>
<circle cx="213.22" cy="224.38" r="0.85" fill="#163e66"/>
<circle cx="212.08" cy="225.30" r="0.85" fill="#163e66"/>
<circle cx="212.63" cy="223.73" r="0.85" fill="#163e66"/>
<rect x="218.80" y="225.21" width="4.70" height="4.09" fill="#e8808f" />
<line x1="221.15" y1="224.61" x2="221.15" y2="225.21" stroke="#b0102a" stroke-width="0.8" />
<line x1="219.95" y1="224.61" x2="222.35" y2="224.61" stroke="#b0102a" stroke-width="0.8" />
<circle cx="220.18" cy="224.77" r="0.85" fill="#b0102a"/>
<circle cx="222.52" cy="224.45" r="0.85" fill="#b0102a"/>
<circle cx="220.65" cy="225.46" r="0.85" fill="#b0102a"/>
<circle cx="221.23" cy="224.73" r="0.85" fill="#b0102a"/>
<circle cx="219.90" cy="224.78" r="0.85" fill="#b0102a"/>
<circle cx="222.10" cy="224.59" r="0.85" fill="#b0102a"/>
<circle cx="219.67" cy="224.44" r="0.85" fill="#b0102a"/>
<path d="M182.60,169.65L182.60,171.95M183.60,170.23L181.60,171.38M183.60,171.38L181.60,170.23" stroke="#231f20" stroke-width="0.85" fill="none"/>
<path d="M186.20,169.65L186.20,171.95M187.20,170.23L185.20,171.38M187.20,171.38L185.20,170.23" stroke="#231f20" stroke-width="0.85" fill="none"/>
<path d="M200.80,211.25L200.80,213.55M201.80,211.83L199.80,212.97M201.80,212.97L199.80,211.83" stroke="#231f20" stroke-width="0.85" fill="none"/>
<path d="M204.40,211.25L204.40,213.55M205.40,211.83L203.40,212.97M205.40,212.97L203.40,211.83" stroke="#231f20" stroke-width="0.85" fill="none"/>
<text x="220.70" y="222.17" font-size="7.41" text-anchor="middle" stroke="#231f20" stroke-width="0.14" textLength="11.20" lengthAdjust="spacingAndGlyphs">N.S.</text>
<text x="180.60" y="241.17" font-size="7.96" text-anchor="middle" stroke="#231f20" stroke-width="0.14" textLength="8.50" lengthAdjust="spacingAndGlyphs">G0</text>
<text x="198.80" y="241.17" font-size="7.96" text-anchor="middle" stroke="#231f20" stroke-width="0.14" textLength="7.80" lengthAdjust="spacingAndGlyphs">G1</text>
<text x="217.30" y="241.17" font-size="7.96" text-anchor="middle" stroke="#231f20" stroke-width="0.14" textLength="20.60" lengthAdjust="spacingAndGlyphs">G2/S/M</text>
<text x="0" y="0" transform="translate(149.60,200.50) rotate(-90)" font-size="8.6" text-anchor="middle" stroke="#231f20" stroke-width="0.14" textLength="48.00" lengthAdjust="spacingAndGlyphs">Frequency (%)</text>
<text x="247.54" y="126.40" font-size="11.2" font-weight="bold" stroke="#231f20" stroke-width="0.3" textLength="7.14" lengthAdjust="spacingAndGlyphs">E</text>
<rect x="248.10" y="142.00" width="4.80" height="4.80" fill="#1d5588" />
<text x="257.00" y="146.97" font-size="7.96" stroke="#231f20" stroke-width="0.14" textLength="33.40" lengthAdjust="spacingAndGlyphs">oHSC WT</text>
<rect x="248.10" y="152.60" width="4.80" height="4.80" fill="#c8183c" />
<text x="257.00" y="157.57" font-size="7.96" stroke="#231f20" stroke-width="0.14"><tspan textLength="42.10" lengthAdjust="spacingAndGlyphs">oHSC Sphk2</tspan><tspan font-size="4.776" dy="-3.18" dx="0.3" stroke-width="0.08" textLength="8.50" lengthAdjust="spacingAndGlyphs">Δ/Δ</tspan></text>
<line x1="276.30" y1="167.50" x2="276.30" y2="228.90" stroke="#231f20" stroke-width="1.1" />
<line x1="274.10" y1="228.90" x2="276.30" y2="228.90" stroke="#231f20" stroke-width="1.1" />
<text x="270.50" y="231.58" font-size="8.28" text-anchor="end" stroke="#231f20" stroke-width="0.14" textLength="3.85" lengthAdjust="spacingAndGlyphs">0</text>
<line x1="274.10" y1="210.00" x2="276.30" y2="210.00" stroke="#231f20" stroke-width="1.1" />
<text x="270.50" y="212.68" font-size="8.28" text-anchor="end" stroke="#231f20" stroke-width="0.14" textLength="7.70" lengthAdjust="spacingAndGlyphs">20</text>
<line x1="274.10" y1="190.60" x2="276.30" y2="190.60" stroke="#231f20" stroke-width="1.1" />
<text x="270.50" y="193.28" font-size="8.28" text-anchor="end" stroke="#231f20" stroke-width="0.14" textLength="7.70" lengthAdjust="spacingAndGlyphs">40</text>
<line x1="274.10" y1="171.50" x2="276.30" y2="171.50" stroke="#231f20" stroke-width="1.1" />
<text x="270.50" y="174.18" font-size="8.28" text-anchor="end" stroke="#231f20" stroke-width="0.14" textLength="7.70" lengthAdjust="spacingAndGlyphs">60</text>
<line x1="276.30" y1="228.90" x2="303.75" y2="228.90" stroke="#231f20" stroke-width="1.1" />
<line x1="282.60" y1="228.90" x2="282.60" y2="231.10" stroke="#231f20" stroke-width="1.1" />
<line x1="298.00" y1="228.90" x2="298.00" y2="231.10" stroke="#231f20" stroke-width="1.1" />
<rect x="280.00" y="186.60" width="5.20" height="42.70" fill="#8aaccb" />
<rect x="295.30" y="199.60" width="5.40" height="29.70" fill="#e8808f" />
<line x1="282.60" y1="183.00" x2="282.60" y2="186.60" stroke="#231f20" stroke-width="0.7" />
<line x1="281.40" y1="183.00" x2="283.80" y2="183.00" stroke="#231f20" stroke-width="0.7" />
<line x1="298.00" y1="196.50" x2="298.00" y2="199.60" stroke="#231f20" stroke-width="0.7" />
<line x1="296.80" y1="196.50" x2="299.20" y2="196.50" stroke="#231f20" stroke-width="0.7" />
<circle cx="282.50" cy="180.00" r="0.85" fill="#163e66"/>
<circle cx="282.00" cy="184.60" r="0.85" fill="#163e66"/>
<circle cx="283.80" cy="189.60" r="0.85" fill="#163e66"/>
<circle cx="282.00" cy="194.00" r="0.85" fill="#163e66"/>
<circle cx="281.00" cy="187.60" r="0.85" fill="#163e66"/>
<circle cx="298.30" cy="194.10" r="0.85" fill="#b0102a"/>
<circle cx="297.90" cy="197.10" r="0.85" fill="#b0102a"/>
<circle cx="299.00" cy="201.10" r="0.85" fill="#b0102a"/>
<circle cx="298.30" cy="203.60" r="0.85" fill="#b0102a"/>
<circle cx="298.60" cy="206.10" r="0.85" fill="#b0102a"/>
<circle cx="296.90" cy="200.10" r="0.85" fill="#b0102a"/>
<path d="M294.30,187.95L294.30,190.25M295.30,188.53L293.30,189.67M295.30,189.67L293.30,188.53" stroke="#231f20" stroke-width="0.85" fill="none"/>
<path d="M297.90,187.95L297.90,190.25M298.90,188.53L296.90,189.67M298.90,189.67L296.90,188.53" stroke="#231f20" stroke-width="0.85" fill="none"/>
<path d="M301.50,187.95L301.50,190.25M302.50,188.53L300.50,189.67M302.50,189.67L300.50,188.53" stroke="#231f20" stroke-width="0.85" fill="none"/>
<text x="0" y="0" transform="translate(258.10,201.00) rotate(-90)" font-size="8.6" text-anchor="middle" stroke="#231f20" stroke-width="0.14" textLength="43.00" lengthAdjust="spacingAndGlyphs">γH2AX+ (%)</text>
<text x="330.05" y="126.40" font-size="11.2" font-weight="bold" stroke="#231f20" stroke-width="0.3" textLength="6.40" lengthAdjust="spacingAndGlyphs">F</text>
<rect x="330.60" y="142.00" width="4.80" height="4.80" fill="#1d5588" />
<text x="339.50" y="146.97" font-size="7.96" stroke="#231f20" stroke-width="0.14" textLength="33.40" lengthAdjust="spacingAndGlyphs">oHSC WT</text>
<rect x="330.60" y="152.60" width="4.80" height="4.80" fill="#c8183c" />
<text x="339.50" y="157.57" font-size="7.96" stroke="#231f20" stroke-width="0.14"><tspan textLength="42.10" lengthAdjust="spacingAndGlyphs">oHSC Sphk2</tspan><tspan font-size="4.776" dy="-3.18" dx="0.3" stroke-width="0.08" textLength="8.50" lengthAdjust="spacingAndGlyphs">Δ/Δ</tspan></text>
<line x1="358.30" y1="167.50" x2="358.30" y2="229.10" stroke="#231f20" stroke-width="1.1" />
<line x1="356.10" y1="229.10" x2="358.30" y2="229.10" stroke="#231f20" stroke-width="1.1" />
<text x="353.30" y="231.78" font-size="8.28" text-anchor="end" stroke="#231f20" stroke-width="0.14" textLength="3.85" lengthAdjust="spacingAndGlyphs">0</text>
<line x1="356.10" y1="217.40" x2="358.30" y2="217.40" stroke="#231f20" stroke-width="1.1" />
<text x="353.30" y="220.08" font-size="8.28" text-anchor="end" stroke="#231f20" stroke-width="0.14" textLength="7.70" lengthAdjust="spacingAndGlyphs">10</text>
<line x1="356.10" y1="205.90" x2="358.30" y2="205.90" stroke="#231f20" stroke-width="1.1" />
<text x="353.30" y="208.58" font-size="8.28" text-anchor="end" stroke="#231f20" stroke-width="0.14" textLength="7.70" lengthAdjust="spacingAndGlyphs">20</text>
<line x1="356.10" y1="194.60" x2="358.30" y2="194.60" stroke="#231f20" stroke-width="1.1" />
<text x="353.30" y="197.28" font-size="8.28" text-anchor="end" stroke="#231f20" stroke-width="0.14" textLength="7.70" lengthAdjust="spacingAndGlyphs">30</text>
<line x1="356.10" y1="183.00" x2="358.30" y2="183.00" stroke="#231f20" stroke-width="1.1" />
<text x="353.30" y="185.68" font-size="8.28" text-anchor="end" stroke="#231f20" stroke-width="0.14" textLength="7.70" lengthAdjust="spacingAndGlyphs">40</text>
<line x1="356.10" y1="171.50" x2="358.30" y2="171.50" stroke="#231f20" stroke-width="1.1" />
<text x="353.30" y="174.18" font-size="8.28" text-anchor="end" stroke="#231f20" stroke-width="0.14" textLength="7.70" lengthAdjust="spacingAndGlyphs">50</text>
<line x1="358.30" y1="229.10" x2="387.30" y2="229.10" stroke="#231f20" stroke-width="1.1" />
<line x1="365.00" y1="229.10" x2="365.00" y2="231.30" stroke="#231f20" stroke-width="1.1" />
<line x1="380.50" y1="229.10" x2="380.50" y2="231.30" stroke="#231f20" stroke-width="1.1" />
<rect x="362.00" y="193.75" width="6.75" height="35.75" fill="#8aaccb" />
<rect x="377.50" y="221.00" width="6.25" height="8.50" fill="#e8808f" />
<line x1="365.40" y1="188.50" x2="365.40" y2="193.75" stroke="#231f20" stroke-width="0.7" />
<line x1="364.20" y1="188.50" x2="366.60" y2="188.50" stroke="#231f20" stroke-width="0.7" />
<line x1="380.60" y1="218.50" x2="380.60" y2="221.00" stroke="#231f20" stroke-width="0.7" />
<line x1="379.40" y1="218.50" x2="381.80" y2="218.50" stroke="#231f20" stroke-width="0.7" />
<circle cx="364.50" cy="176.00" r="0.80" fill="#163e66"/>
<circle cx="363.50" cy="186.00" r="0.80" fill="#163e66"/>
<circle cx="367.00" cy="190.00" r="0.80" fill="#163e66"/>
<circle cx="365.00" cy="198.00" r="0.80" fill="#163e66"/>
<circle cx="363.50" cy="205.00" r="0.80" fill="#163e66"/>
<circle cx="366.50" cy="210.00" r="0.80" fill="#163e66"/>
<circle cx="364.00" cy="213.00" r="0.80" fill="#163e66"/>
<circle cx="379.00" cy="222.00" r="0.80" fill="#b0102a"/>
<circle cx="382.00" cy="220.00" r="0.80" fill="#b0102a"/>
<circle cx="380.00" cy="224.00" r="0.80" fill="#b0102a"/>
<circle cx="382.50" cy="226.00" r="0.80" fill="#b0102a"/>
<circle cx="378.50" cy="219.00" r="0.80" fill="#b0102a"/>
<path d="M377.40,211.85L377.40,214.15M378.40,212.43L376.40,213.57M378.40,213.57L376.40,212.43" stroke="#231f20" stroke-width="0.85" fill="none"/>
<path d="M381.00,211.85L381.00,214.15M382.00,212.43L380.00,213.57M382.00,213.57L380.00,212.43" stroke="#231f20" stroke-width="0.85" fill="none"/>
<path d="M384.60,211.85L384.60,214.15M385.60,212.43L383.60,213.57M385.60,213.57L383.60,212.43" stroke="#231f20" stroke-width="0.85" fill="none"/>
<text x="0" y="0" transform="translate(340.10,200.40) rotate(-90)" font-size="8.6" text-anchor="middle" stroke="#231f20" stroke-width="0.14" textLength="61.00" lengthAdjust="spacingAndGlyphs">Cell ROX deep (%)</text>
<text x="415.86" y="126.40" font-size="11.2" font-weight="bold" stroke="#231f20" stroke-width="0.3" textLength="7.38" lengthAdjust="spacingAndGlyphs">G</text>
<rect x="415.60" y="130.70" width="4.80" height="4.80" fill="#5b2c83" />
<text x="423.75" y="135.57" font-size="7.96" stroke="#231f20" stroke-width="0.14" textLength="27.50" lengthAdjust="spacingAndGlyphs">Myeloid</text>
<rect x="415.60" y="141.40" width="4.80" height="4.80" fill="#3cb44b" />
<text x="423.75" y="146.32" font-size="7.96" stroke="#231f20" stroke-width="0.14" textLength="37.00" lengthAdjust="spacingAndGlyphs">T lymphoid</text>
<rect x="415.60" y="152.10" width="4.80" height="4.80" fill="#1c5a8e" />
<text x="423.75" y="157.07" font-size="7.96" stroke="#231f20" stroke-width="0.14" textLength="38.00" lengthAdjust="spacingAndGlyphs">B lymphoid</text>
<circle cx="470.30" cy="132.60" r="2.50" fill="#3cb44b"/>
<text x="475.60" y="135.17" font-size="7.96" stroke="#231f20" stroke-width="0.14" textLength="35.00" lengthAdjust="spacingAndGlyphs">Young WT</text>
<circle cx="470.30" cy="143.80" r="2.50" fill="#1d5588"/>
<text x="475.60" y="146.37" font-size="7.96" stroke="#231f20" stroke-width="0.14" textLength="24.50" lengthAdjust="spacingAndGlyphs">Old WT</text>
<circle cx="470.30" cy="154.40" r="2.50" fill="#c8183c"/>
<text x="475.60" y="156.97" font-size="7.96" stroke="#231f20" stroke-width="0.14"><tspan textLength="33.00" lengthAdjust="spacingAndGlyphs">Old Sphk2</tspan><tspan font-size="4.776" dy="-3.18" dx="0.3" stroke-width="0.08">Δ/Δ</tspan></text>
<line x1="446.40" y1="167.00" x2="446.40" y2="229.30" stroke="#231f20" stroke-width="1.1" />
<line x1="444.20" y1="229.30" x2="446.40" y2="229.30" stroke="#231f20" stroke-width="1.1" />
<text x="442.90" y="231.98" font-size="8.28" text-anchor="end" stroke="#231f20" stroke-width="0.14" textLength="3.85" lengthAdjust="spacingAndGlyphs">0</text>
<line x1="444.20" y1="219.00" x2="446.40" y2="219.00" stroke="#231f20" stroke-width="1.1" />
<text x="442.90" y="221.68" font-size="8.28" text-anchor="end" stroke="#231f20" stroke-width="0.14" textLength="7.70" lengthAdjust="spacingAndGlyphs">20</text>
<line x1="444.20" y1="208.70" x2="446.40" y2="208.70" stroke="#231f20" stroke-width="1.1" />
<text x="442.90" y="211.38" font-size="8.28" text-anchor="end" stroke="#231f20" stroke-width="0.14" textLength="7.70" lengthAdjust="spacingAndGlyphs">40</text>
<line x1="444.20" y1="198.40" x2="446.40" y2="198.40" stroke="#231f20" stroke-width="1.1" />
<text x="442.90" y="201.08" font-size="8.28" text-anchor="end" stroke="#231f20" stroke-width="0.14" textLength="7.70" lengthAdjust="spacingAndGlyphs">60</text>
<line x1="444.20" y1="188.10" x2="446.40" y2="188.10" stroke="#231f20" stroke-width="1.1" />
<text x="442.90" y="190.78" font-size="8.28" text-anchor="end" stroke="#231f20" stroke-width="0.14" textLength="7.70" lengthAdjust="spacingAndGlyphs">80</text>
<line x1="444.20" y1="177.80" x2="446.40" y2="177.80" stroke="#231f20" stroke-width="1.1" />
<text x="442.90" y="180.48" font-size="8.28" text-anchor="end" stroke="#231f20" stroke-width="0.14" textLength="11.55" lengthAdjust="spacingAndGlyphs">100</text>
<line x1="446.40" y1="229.30" x2="491.40" y2="229.30" stroke="#231f20" stroke-width="1.1" />
<line x1="453.10" y1="229.30" x2="453.10" y2="231.50" stroke="#231f20" stroke-width="1.1" />
<line x1="470.00" y1="229.30" x2="470.00" y2="231.50" stroke="#231f20" stroke-width="1.1" />
<line x1="487.00" y1="229.30" x2="487.00" y2="231.50" stroke="#231f20" stroke-width="1.1" />
<rect x="450.20" y="212.31" width="5.90" height="17.00" fill="#1c5a8e" />
<rect x="450.20" y="188.62" width="5.90" height="23.69" fill="#3cb44b" />
<rect x="450.20" y="177.80" width="5.90" height="10.81" fill="#5b2c83" />
<rect x="467.10" y="215.40" width="5.90" height="13.91" fill="#1c5a8e" />
<rect x="467.10" y="203.04" width="5.90" height="12.36" fill="#3cb44b" />
<rect x="467.10" y="177.80" width="5.90" height="25.23" fill="#5b2c83" />
<rect x="484.00" y="214.37" width="6.00" height="14.94" fill="#1c5a8e" />
<rect x="484.00" y="195.83" width="6.00" height="18.54" fill="#3cb44b" />
<rect x="484.00" y="177.80" width="6.00" height="18.03" fill="#5b2c83" />
<line x1="453.10" y1="175.30" x2="453.10" y2="177.70" stroke="#111" stroke-width="0.8" />
<line x1="451.80" y1="175.30" x2="454.40" y2="175.30" stroke="#111" stroke-width="0.8" />
<line x1="470.00" y1="171.60" x2="470.00" y2="177.70" stroke="#111" stroke-width="0.8" />
<line x1="468.70" y1="171.60" x2="471.30" y2="171.60" stroke="#111" stroke-width="0.8" />
<line x1="487.00" y1="173.30" x2="487.00" y2="177.70" stroke="#111" stroke-width="0.8" />
<line x1="485.70" y1="173.30" x2="488.30" y2="173.30" stroke="#111" stroke-width="0.8" />
<line x1="450.60" y1="212.31" x2="455.70" y2="212.31" stroke="#1a1a1a" stroke-width="1.1" />
<line x1="453.15" y1="210.11" x2="453.15" y2="212.31" stroke="#111" stroke-width="0.7" />
<line x1="451.95" y1="210.11" x2="454.35" y2="210.11" stroke="#111" stroke-width="0.7" />
<line x1="450.60" y1="188.62" x2="455.70" y2="188.62" stroke="#1a1a1a" stroke-width="1.1" />
<line x1="453.15" y1="186.42" x2="453.15" y2="188.62" stroke="#111" stroke-width="0.7" />
<line x1="451.95" y1="186.42" x2="454.35" y2="186.42" stroke="#111" stroke-width="0.7" />
<line x1="467.50" y1="215.40" x2="472.60" y2="215.40" stroke="#1a1a1a" stroke-width="1.1" />
<line x1="470.05" y1="213.20" x2="470.05" y2="215.40" stroke="#111" stroke-width="0.7" />
<line x1="468.85" y1="213.20" x2="471.25" y2="213.20" stroke="#111" stroke-width="0.7" />
<line x1="467.50" y1="203.04" x2="472.60" y2="203.04" stroke="#1a1a1a" stroke-width="1.1" />
<line x1="470.05" y1="200.84" x2="470.05" y2="203.04" stroke="#111" stroke-width="0.7" />
<line x1="468.85" y1="200.84" x2="471.25" y2="200.84" stroke="#111" stroke-width="0.7" />
<line x1="484.40" y1="214.37" x2="489.60" y2="214.37" stroke="#1a1a1a" stroke-width="1.1" />
<line x1="487.00" y1="212.17" x2="487.00" y2="214.37" stroke="#111" stroke-width="0.7" />
<line x1="485.80" y1="212.17" x2="488.20" y2="212.17" stroke="#111" stroke-width="0.7" />
<line x1="484.40" y1="195.83" x2="489.60" y2="195.83" stroke="#1a1a1a" stroke-width="1.1" />
<line x1="487.00" y1="193.63" x2="487.00" y2="195.83" stroke="#111" stroke-width="0.7" />
<line x1="485.80" y1="193.63" x2="488.20" y2="193.63" stroke="#111" stroke-width="0.7" />
<line x1="456.10" y1="181.50" x2="467.10" y2="181.50" stroke="#8c8c8c" stroke-width="0.8" />
<text x="461.60" y="179.93" font-size="6.76" text-anchor="middle" fill="#444" stroke="#444" stroke-width="0.12" textLength="9.00" lengthAdjust="spacingAndGlyphs">†††</text>
<line x1="456.10" y1="210.30" x2="467.10" y2="210.30" stroke="#8c8c8c" stroke-width="0.8" />
<text x="461.60" y="208.93" font-size="6.76" text-anchor="middle" fill="#444" stroke="#444" stroke-width="0.12" textLength="9.00" lengthAdjust="spacingAndGlyphs">†††</text>
<line x1="473.00" y1="184.80" x2="484.00" y2="184.80" stroke="#8c8c8c" stroke-width="0.8" />
<text x="478.50" y="183.33" font-size="6.76" text-anchor="middle" fill="#444" stroke="#444" stroke-width="0.12" textLength="6.00" lengthAdjust="spacingAndGlyphs">††</text>
<line x1="473.00" y1="206.60" x2="484.00" y2="206.60" stroke="#8c8c8c" stroke-width="0.8" />
<text x="478.50" y="205.13" font-size="6.76" text-anchor="middle" fill="#444" stroke="#444" stroke-width="0.12" textLength="6.00" lengthAdjust="spacingAndGlyphs">††</text>
<circle cx="453.00" cy="236.60" r="2.10" fill="#3cb44b"/>
<circle cx="469.90" cy="236.60" r="2.10" fill="#1d5588"/>
<circle cx="486.60" cy="236.60" r="2.10" fill="#c8183c"/>
<text x="0" y="0" transform="translate(422.90,200.40) rotate(-90)" font-size="8.6" text-anchor="middle" stroke="#231f20" stroke-width="0.14" textLength="47.50" lengthAdjust="spacingAndGlyphs">Frequency (%)</text>
<text x="3.20" y="268.80" font-size="11.2" font-weight="bold" stroke="#231f20" stroke-width="0.3" textLength="8.61" lengthAdjust="spacingAndGlyphs">H</text>
<rect x="19.40" y="281.90" width="4.80" height="4.80" fill="#1c5a8e" />
<text x="27.40" y="287.02" font-size="8.39" stroke="#231f20" stroke-width="0.14" textLength="26.00" lengthAdjust="spacingAndGlyphs">Old WT</text>
<rect x="19.40" y="292.60" width="4.80" height="4.80" fill="#c8183c" />
<text x="27.40" y="297.72" font-size="8.39" stroke="#231f20" stroke-width="0.14"><tspan textLength="35.00" lengthAdjust="spacingAndGlyphs">Old Sphk2</tspan><tspan font-size="5.034" dy="-3.36" dx="0.3" stroke-width="0.08">Δ/Δ</tspan></text>
<text x="26.60" y="311.42" font-size="8.39" text-anchor="middle" fill="#3a3a3a" stroke="#3a3a3a" stroke-width="0.14" textLength="45.50" lengthAdjust="spacingAndGlyphs">24-month old</text>
<text x="26.60" y="320.62" font-size="8.39" text-anchor="middle" fill="#3a3a3a" stroke="#3a3a3a" stroke-width="0.14" textLength="47.00" lengthAdjust="spacingAndGlyphs">CD45.2 WBM</text>
<circle cx="26.20" cy="328.50" r="1.75" fill="#8a7aa8" stroke="#2a1a48" stroke-width="0.9"/>
<circle cx="29.06" cy="330.15" r="1.75" fill="#8a7aa8" stroke="#2a1a48" stroke-width="0.9"/>
<circle cx="26.20" cy="331.80" r="1.75" fill="#8a7aa8" stroke="#2a1a48" stroke-width="0.9"/>
<circle cx="23.34" cy="330.15" r="1.75" fill="#8a7aa8" stroke="#2a1a48" stroke-width="0.9"/>
<circle cx="23.34" cy="326.85" r="1.75" fill="#8a7aa8" stroke="#2a1a48" stroke-width="0.9"/>
<circle cx="26.20" cy="325.20" r="1.75" fill="#8a7aa8" stroke="#2a1a48" stroke-width="0.9"/>
<circle cx="29.06" cy="326.85" r="1.75" fill="#8a7aa8" stroke="#2a1a48" stroke-width="0.9"/>
<circle cx="26.00" cy="337.20" r="0.60" fill="#777"/>
<circle cx="26.40" cy="347.10" r="2.10" fill="#8c2444" stroke="#5a1428" stroke-width="0.5"/>
<circle cx="29.26" cy="348.75" r="2.10" fill="#8c2444" stroke="#5a1428" stroke-width="0.5"/>
<circle cx="26.40" cy="350.40" r="2.10" fill="#8c2444" stroke="#5a1428" stroke-width="0.5"/>
<circle cx="23.54" cy="348.75" r="2.10" fill="#8c2444" stroke="#5a1428" stroke-width="0.5"/>
<circle cx="23.54" cy="345.45" r="2.10" fill="#8c2444" stroke="#5a1428" stroke-width="0.5"/>
<circle cx="26.40" cy="343.80" r="2.10" fill="#8c2444" stroke="#5a1428" stroke-width="0.5"/>
<circle cx="29.26" cy="345.45" r="2.10" fill="#8c2444" stroke="#5a1428" stroke-width="0.5"/>
<text x="26.50" y="361.52" font-size="8.39" text-anchor="middle" fill="#3a3a3a" stroke="#3a3a3a" stroke-width="0.14" textLength="40.70" lengthAdjust="spacingAndGlyphs">2-month old</text>
<text x="26.40" y="370.22" font-size="8.39" text-anchor="middle" fill="#3a3a3a" stroke="#3a3a3a" stroke-width="0.14" textLength="45.80" lengthAdjust="spacingAndGlyphs">CD45.1 WBM</text>
<line x1="35.50" y1="337.70" x2="56.20" y2="337.70" stroke="#231f20" stroke-width="0.8" />
<path d="M56.70,337.70 L53.95,339.00 L53.95,336.40 Z" fill="#231f20"/>
<text x="74.00" y="312.02" font-size="8.39" text-anchor="middle" fill="#3a3a3a" stroke="#3a3a3a" stroke-width="0.14" textLength="32.00" lengthAdjust="spacingAndGlyphs">Irradiated</text>
<text x="74.00" y="321.42" font-size="8.39" text-anchor="middle" fill="#3a3a3a" stroke="#3a3a3a" stroke-width="0.14" textLength="25.00" lengthAdjust="spacingAndGlyphs">CD45.1</text>
<text x="74.40" y="330.52" font-size="8.39" text-anchor="middle" fill="#3a3a3a" stroke="#3a3a3a" stroke-width="0.14" textLength="29.40" lengthAdjust="spacingAndGlyphs">recipient</text>
<g transform="translate(75.80,337.00) scale(0.950)"><path d="M-3.2,2.2 Q-6.5,2.6 -10,1.9" fill="none" stroke="#d8b4bc" stroke-width="0.7"/><ellipse cx="0" cy="0" rx="3.4" ry="2.6" fill="#c4bfbf"/><ellipse cx="3.3" cy="-1.6" rx="2.1" ry="1.4" transform="rotate(-20 3.3 -1.6)" fill="#c4bfbf"/><circle cx="2.4" cy="-3.0" r="0.8" fill="#d9a0ae"/><rect x="-2.2" y="2.2" width="4.6" height="0.6" fill="#d8b4bc"/></g>
<line x1="63.70" y1="339.80" x2="63.70" y2="352.80" stroke="#231f20" stroke-width="0.8" />
<path d="M63.70,353.30 L62.40,350.55 L65.00,350.55 Z" fill="#231f20"/>
<text x="74.40" y="347.75" font-size="7.63" text-anchor="middle" fill="#3a3a3a" stroke="#3a3a3a" stroke-width="0.14" textLength="6.50" lengthAdjust="spacingAndGlyphs">1°</text>
<text x="74.00" y="361.52" font-size="8.39" text-anchor="middle" fill="#3a3a3a" stroke="#3a3a3a" stroke-width="0.14" textLength="32.00" lengthAdjust="spacingAndGlyphs">Irradiated</text>
<text x="74.00" y="370.32" font-size="8.39" text-anchor="middle" fill="#3a3a3a" stroke="#3a3a3a" stroke-width="0.14" textLength="25.00" lengthAdjust="spacingAndGlyphs">CD45.1</text>
<text x="74.40" y="379.02" font-size="8.39" text-anchor="middle" fill="#3a3a3a" stroke="#3a3a3a" stroke-width="0.14" textLength="29.40" lengthAdjust="spacingAndGlyphs">recipient</text>
<g transform="translate(75.80,386.00) scale(0.950)"><path d="M-3.2,2.2 Q-6.5,2.6 -10,1.9" fill="none" stroke="#d8b4bc" stroke-width="0.7"/><ellipse cx="0" cy="0" rx="3.4" ry="2.6" fill="#c4bfbf"/><ellipse cx="3.3" cy="-1.6" rx="2.1" ry="1.4" transform="rotate(-20 3.3 -1.6)" fill="#c4bfbf"/><circle cx="2.4" cy="-3.0" r="0.8" fill="#d9a0ae"/><rect x="-2.2" y="2.2" width="4.6" height="0.6" fill="#d8b4bc"/></g>
<text x="74.80" y="396.75" font-size="7.63" text-anchor="middle" fill="#3a3a3a" stroke="#3a3a3a" stroke-width="0.14" textLength="6.80" lengthAdjust="spacingAndGlyphs">2°</text>
<rect x="100.00" y="258.70" width="2.60" height="8.20" fill="#231f20" />
<text x="163.60" y="310.07" font-size="7.96" text-anchor="middle" stroke="#231f20" stroke-width="0.14">1°</text>
<line x1="132.00" y1="316.80" x2="132.00" y2="380.20" stroke="#231f20" stroke-width="1.1" />
<line x1="129.80" y1="380.20" x2="132.00" y2="380.20" stroke="#231f20" stroke-width="1.1" />
<text x="125.80" y="382.88" font-size="8.28" text-anchor="end" stroke="#231f20" stroke-width="0.14" textLength="3.85" lengthAdjust="spacingAndGlyphs">0</text>
<line x1="129.80" y1="368.28" x2="132.00" y2="368.28" stroke="#231f20" stroke-width="1.1" />
<text x="125.80" y="370.96" font-size="8.28" text-anchor="end" stroke="#231f20" stroke-width="0.14" textLength="7.70" lengthAdjust="spacingAndGlyphs">20</text>
<line x1="129.80" y1="356.36" x2="132.00" y2="356.36" stroke="#231f20" stroke-width="1.1" />
<text x="125.80" y="359.04" font-size="8.28" text-anchor="end" stroke="#231f20" stroke-width="0.14" textLength="7.70" lengthAdjust="spacingAndGlyphs">40</text>
<line x1="129.80" y1="344.44" x2="132.00" y2="344.44" stroke="#231f20" stroke-width="1.1" />
<text x="125.80" y="347.12" font-size="8.28" text-anchor="end" stroke="#231f20" stroke-width="0.14" textLength="7.70" lengthAdjust="spacingAndGlyphs">60</text>
<line x1="129.80" y1="332.52" x2="132.00" y2="332.52" stroke="#231f20" stroke-width="1.1" />
<text x="125.80" y="335.20" font-size="8.28" text-anchor="end" stroke="#231f20" stroke-width="0.14" textLength="7.70" lengthAdjust="spacingAndGlyphs">80</text>
<line x1="129.80" y1="320.60" x2="132.00" y2="320.60" stroke="#231f20" stroke-width="1.1" />
<text x="125.80" y="323.28" font-size="8.28" text-anchor="end" stroke="#231f20" stroke-width="0.14" textLength="11.55" lengthAdjust="spacingAndGlyphs">100</text>
<line x1="132.00" y1="380.20" x2="196.80" y2="380.20" stroke="#231f20" stroke-width="1.1" />
<line x1="140.10" y1="380.20" x2="140.10" y2="382.40" stroke="#231f20" stroke-width="1.1" />
<line x1="156.90" y1="380.20" x2="156.90" y2="382.40" stroke="#231f20" stroke-width="1.1" />
<line x1="172.80" y1="380.20" x2="172.80" y2="382.40" stroke="#231f20" stroke-width="1.1" />
<line x1="189.90" y1="380.20" x2="189.90" y2="382.40" stroke="#231f20" stroke-width="1.1" />
<text x="140.10" y="392.88" font-size="8.28" text-anchor="middle" stroke="#231f20" stroke-width="0.14">4</text>
<text x="156.90" y="392.88" font-size="8.28" text-anchor="middle" stroke="#231f20" stroke-width="0.14">8</text>
<text x="172.80" y="392.88" font-size="8.28" text-anchor="middle" stroke="#231f20" stroke-width="0.14">12</text>
<text x="189.90" y="392.88" font-size="8.28" text-anchor="middle" stroke="#231f20" stroke-width="0.14">16</text>
<path d="M140.10,348.00 L156.90,337.90 L172.80,328.50 L189.90,325.80" fill="none" stroke="#c8183c" stroke-width="1.3" stroke-linejoin="round"/>
<line x1="140.10" y1="346.00" x2="140.10" y2="350.00" stroke="#b0102a" stroke-width="0.8" />
<line x1="138.70" y1="346.00" x2="141.50" y2="346.00" stroke="#b0102a" stroke-width="0.8" />
<line x1="138.70" y1="350.00" x2="141.50" y2="350.00" stroke="#b0102a" stroke-width="0.8" />
<circle cx="140.07" cy="347.91" r="0.95" fill="#b0102a"/>
<circle cx="141.50" cy="349.60" r="0.95" fill="#b0102a"/>
<circle cx="139.26" cy="348.23" r="0.95" fill="#b0102a"/>
<circle cx="140.73" cy="349.09" r="0.95" fill="#b0102a"/>
<circle cx="142.44" cy="349.27" r="0.95" fill="#b0102a"/>
<circle cx="142.04" cy="348.85" r="0.95" fill="#b0102a"/>
<line x1="156.90" y1="332.90" x2="156.90" y2="342.90" stroke="#b0102a" stroke-width="0.8" />
<line x1="155.50" y1="332.90" x2="158.30" y2="332.90" stroke="#b0102a" stroke-width="0.8" />
<line x1="155.50" y1="342.90" x2="158.30" y2="342.90" stroke="#b0102a" stroke-width="0.8" />
<circle cx="155.67" cy="335.12" r="0.95" fill="#b0102a"/>
<circle cx="154.34" cy="337.95" r="0.95" fill="#b0102a"/>
<circle cx="155.12" cy="335.12" r="0.95" fill="#b0102a"/>
<circle cx="155.08" cy="331.49" r="0.95" fill="#b0102a"/>
<circle cx="158.30" cy="335.61" r="0.95" fill="#b0102a"/>
<circle cx="157.70" cy="343.17" r="0.95" fill="#b0102a"/>
<line x1="172.80" y1="324.10" x2="172.80" y2="332.90" stroke="#b0102a" stroke-width="0.8" />
<line x1="171.40" y1="324.10" x2="174.20" y2="324.10" stroke="#b0102a" stroke-width="0.8" />
<line x1="171.40" y1="332.90" x2="174.20" y2="332.90" stroke="#b0102a" stroke-width="0.8" />
<circle cx="171.71" cy="329.39" r="0.95" fill="#b0102a"/>
<circle cx="170.87" cy="324.12" r="0.95" fill="#b0102a"/>
<circle cx="173.85" cy="323.75" r="0.95" fill="#b0102a"/>
<circle cx="175.34" cy="325.68" r="0.95" fill="#b0102a"/>
<circle cx="174.77" cy="333.82" r="0.95" fill="#b0102a"/>
<circle cx="170.57" cy="327.36" r="0.95" fill="#b0102a"/>
<line x1="189.90" y1="321.10" x2="189.90" y2="330.50" stroke="#b0102a" stroke-width="0.8" />
<line x1="188.50" y1="321.10" x2="191.30" y2="321.10" stroke="#b0102a" stroke-width="0.8" />
<line x1="188.50" y1="330.50" x2="191.30" y2="330.50" stroke="#b0102a" stroke-width="0.8" />
<circle cx="189.88" cy="322.53" r="0.95" fill="#b0102a"/>
<circle cx="188.61" cy="324.48" r="0.95" fill="#b0102a"/>
<circle cx="189.77" cy="322.97" r="0.95" fill="#b0102a"/>
<circle cx="190.45" cy="326.32" r="0.95" fill="#b0102a"/>
<circle cx="190.16" cy="320.13" r="0.95" fill="#b0102a"/>
<circle cx="192.04" cy="324.53" r="0.95" fill="#b0102a"/>
<path d="M140.10,358.10 L156.90,354.00 L172.80,348.60 L189.90,347.30" fill="none" stroke="#1d5588" stroke-width="1.3" stroke-linejoin="round"/>
<line x1="140.10" y1="354.60" x2="140.10" y2="361.60" stroke="#163e66" stroke-width="0.8" />
<line x1="138.70" y1="354.60" x2="141.50" y2="354.60" stroke="#163e66" stroke-width="0.8" />
<line x1="138.70" y1="361.60" x2="141.50" y2="361.60" stroke="#163e66" stroke-width="0.8" />
<circle cx="140.02" cy="355.36" r="0.95" fill="#163e66"/>
<circle cx="142.62" cy="361.84" r="0.95" fill="#163e66"/>
<circle cx="141.38" cy="361.15" r="0.95" fill="#163e66"/>
<circle cx="137.64" cy="360.49" r="0.95" fill="#163e66"/>
<circle cx="138.07" cy="357.08" r="0.95" fill="#163e66"/>
<circle cx="140.05" cy="355.82" r="0.95" fill="#163e66"/>
<line x1="156.90" y1="350.30" x2="156.90" y2="357.70" stroke="#163e66" stroke-width="0.8" />
<line x1="155.50" y1="350.30" x2="158.30" y2="350.30" stroke="#163e66" stroke-width="0.8" />
<line x1="155.50" y1="357.70" x2="158.30" y2="357.70" stroke="#163e66" stroke-width="0.8" />
<circle cx="157.14" cy="353.57" r="0.95" fill="#163e66"/>
<circle cx="154.46" cy="351.95" r="0.95" fill="#163e66"/>
<circle cx="156.98" cy="356.79" r="0.95" fill="#163e66"/>
<circle cx="158.07" cy="351.84" r="0.95" fill="#163e66"/>
<circle cx="159.01" cy="356.37" r="0.95" fill="#163e66"/>
<circle cx="157.89" cy="351.72" r="0.95" fill="#163e66"/>
<line x1="172.80" y1="342.60" x2="172.80" y2="354.60" stroke="#163e66" stroke-width="0.8" />
<line x1="171.40" y1="342.60" x2="174.20" y2="342.60" stroke="#163e66" stroke-width="0.8" />
<line x1="171.40" y1="354.60" x2="174.20" y2="354.60" stroke="#163e66" stroke-width="0.8" />
<circle cx="174.74" cy="355.16" r="0.95" fill="#163e66"/>
<circle cx="172.18" cy="351.91" r="0.95" fill="#163e66"/>
<circle cx="174.98" cy="355.16" r="0.95" fill="#163e66"/>
<circle cx="173.65" cy="351.18" r="0.95" fill="#163e66"/>
<circle cx="170.93" cy="353.84" r="0.95" fill="#163e66"/>
<circle cx="173.97" cy="348.94" r="0.95" fill="#163e66"/>
<line x1="189.90" y1="341.60" x2="189.90" y2="353.00" stroke="#163e66" stroke-width="0.8" />
<line x1="188.50" y1="341.60" x2="191.30" y2="341.60" stroke="#163e66" stroke-width="0.8" />
<line x1="188.50" y1="353.00" x2="191.30" y2="353.00" stroke="#163e66" stroke-width="0.8" />
<circle cx="191.75" cy="352.03" r="0.95" fill="#163e66"/>
<circle cx="192.26" cy="350.71" r="0.95" fill="#163e66"/>
<circle cx="189.92" cy="348.39" r="0.95" fill="#163e66"/>
<circle cx="187.55" cy="345.71" r="0.95" fill="#163e66"/>
<circle cx="188.57" cy="341.93" r="0.95" fill="#163e66"/>
<circle cx="187.81" cy="351.73" r="0.95" fill="#163e66"/>
<path d="M136.50,369.05L136.50,371.35M137.50,369.62L135.50,370.77M137.50,370.77L135.50,369.62" stroke="#231f20" stroke-width="0.85" fill="none"/>
<path d="M140.10,369.05L140.10,371.35M141.10,369.62L139.10,370.77M141.10,370.77L139.10,369.62" stroke="#231f20" stroke-width="0.85" fill="none"/>
<path d="M143.70,369.05L143.70,371.35M144.70,369.62L142.70,370.77M144.70,370.77L142.70,369.62" stroke="#231f20" stroke-width="0.85" fill="none"/>
<path d="M153.30,361.65L153.30,363.95M154.30,362.23L152.30,363.38M154.30,363.38L152.30,362.23" stroke="#231f20" stroke-width="0.85" fill="none"/>
<path d="M156.90,361.65L156.90,363.95M157.90,362.23L155.90,363.38M157.90,363.38L155.90,362.23" stroke="#231f20" stroke-width="0.85" fill="none"/>
<path d="M160.50,361.65L160.50,363.95M161.50,362.23L159.50,363.38M161.50,363.38L159.50,362.23" stroke="#231f20" stroke-width="0.85" fill="none"/>
<path d="M169.50,362.35L169.50,364.65M170.50,362.93L168.50,364.07M170.50,364.07L168.50,362.93" stroke="#231f20" stroke-width="0.85" fill="none"/>
<path d="M173.10,362.35L173.10,364.65M174.10,362.93L172.10,364.07M174.10,364.07L172.10,362.93" stroke="#231f20" stroke-width="0.85" fill="none"/>
<path d="M176.70,362.35L176.70,364.65M177.70,362.93L175.70,364.07M177.70,364.07L175.70,362.93" stroke="#231f20" stroke-width="0.85" fill="none"/>
<path d="M186.30,359.65L186.30,361.95M187.30,360.23L185.30,361.38M187.30,361.38L185.30,360.23" stroke="#231f20" stroke-width="0.85" fill="none"/>
<path d="M189.90,359.65L189.90,361.95M190.90,360.23L188.90,361.38M190.90,361.38L188.90,360.23" stroke="#231f20" stroke-width="0.85" fill="none"/>
<path d="M193.50,359.65L193.50,361.95M194.50,360.23L192.50,361.38M194.50,361.38L192.50,360.23" stroke="#231f20" stroke-width="0.85" fill="none"/>
<text x="164.20" y="404.72" font-size="8.94" text-anchor="middle" stroke="#231f20" stroke-width="0.14" textLength="33.00" lengthAdjust="spacingAndGlyphs">Time after</text>
<text x="164.40" y="416.92" font-size="8.94" text-anchor="middle" stroke="#231f20" stroke-width="0.14" textLength="77.00" lengthAdjust="spacingAndGlyphs">transplantation (weeks)</text>
<text x="0" y="0" transform="translate(108.60,351.00) rotate(-90)" font-size="8.6" text-anchor="middle" stroke="#231f20" stroke-width="0.14" textLength="61.00" lengthAdjust="spacingAndGlyphs">Donor derived (%)</text>
<text x="212.41" y="266.70" font-size="11.2" font-weight="bold" stroke="#231f20" stroke-width="0.3" textLength="5.30" lengthAdjust="spacingAndGlyphs">J</text>
<rect x="213.10" y="273.80" width="4.80" height="4.80" fill="#5b2c83" />
<text x="221.00" y="278.77" font-size="7.96" stroke="#231f20" stroke-width="0.14" textLength="27.50" lengthAdjust="spacingAndGlyphs">Myeloid</text>
<rect x="213.10" y="284.00" width="4.80" height="4.80" fill="#3cb44b" />
<text x="221.00" y="288.97" font-size="7.96" stroke="#231f20" stroke-width="0.14" textLength="37.00" lengthAdjust="spacingAndGlyphs">T lymphoid</text>
<rect x="213.10" y="294.30" width="4.80" height="4.80" fill="#1c5a8e" />
<text x="221.00" y="299.27" font-size="7.96" stroke="#231f20" stroke-width="0.14" textLength="38.00" lengthAdjust="spacingAndGlyphs">B lymphoid</text>
<circle cx="267.60" cy="276.20" r="2.40" fill="#1d5588"/>
<text x="273.60" y="278.77" font-size="7.96" stroke="#231f20" stroke-width="0.14" textLength="26.20" lengthAdjust="spacingAndGlyphs">Old WT</text>
<circle cx="267.60" cy="286.40" r="2.40" fill="#c8183c"/>
<text x="273.60" y="288.97" font-size="7.96" stroke="#231f20" stroke-width="0.14" textLength="12.50" lengthAdjust="spacingAndGlyphs">Old</text>
<text x="273.60" y="298.47" font-size="7.96" stroke="#231f20" stroke-width="0.14"><tspan textLength="20.20" lengthAdjust="spacingAndGlyphs">Sphk2</tspan><tspan font-size="4.776" dy="-3.18" dx="0.3" stroke-width="0.08" textLength="8.50" lengthAdjust="spacingAndGlyphs">Δ/Δ</tspan></text>
<text x="265.00" y="310.07" font-size="7.96" text-anchor="middle" stroke="#231f20" stroke-width="0.14">1°</text>
<line x1="244.30" y1="316.80" x2="244.30" y2="380.40" stroke="#231f20" stroke-width="1.1" />
<line x1="242.10" y1="380.40" x2="244.30" y2="380.40" stroke="#231f20" stroke-width="1.1" />
<text x="238.60" y="383.08" font-size="8.28" text-anchor="end" stroke="#231f20" stroke-width="0.14" textLength="3.85" lengthAdjust="spacingAndGlyphs">0</text>
<line x1="242.10" y1="368.41" x2="244.30" y2="368.41" stroke="#231f20" stroke-width="1.1" />
<text x="238.60" y="371.09" font-size="8.28" text-anchor="end" stroke="#231f20" stroke-width="0.14" textLength="7.70" lengthAdjust="spacingAndGlyphs">20</text>
<line x1="242.10" y1="356.42" x2="244.30" y2="356.42" stroke="#231f20" stroke-width="1.1" />
<text x="238.60" y="359.10" font-size="8.28" text-anchor="end" stroke="#231f20" stroke-width="0.14" textLength="7.70" lengthAdjust="spacingAndGlyphs">40</text>
<line x1="242.10" y1="344.42" x2="244.30" y2="344.42" stroke="#231f20" stroke-width="1.1" />
<text x="238.60" y="347.10" font-size="8.28" text-anchor="end" stroke="#231f20" stroke-width="0.14" textLength="7.70" lengthAdjust="spacingAndGlyphs">60</text>
<line x1="242.10" y1="332.43" x2="244.30" y2="332.43" stroke="#231f20" stroke-width="1.1" />
<text x="238.60" y="335.11" font-size="8.28" text-anchor="end" stroke="#231f20" stroke-width="0.14" textLength="7.70" lengthAdjust="spacingAndGlyphs">80</text>
<line x1="242.10" y1="320.44" x2="244.30" y2="320.44" stroke="#231f20" stroke-width="1.1" />
<text x="238.60" y="323.12" font-size="8.28" text-anchor="end" stroke="#231f20" stroke-width="0.14" textLength="11.55" lengthAdjust="spacingAndGlyphs">100</text>
<line x1="244.30" y1="380.40" x2="285.50" y2="380.40" stroke="#231f20" stroke-width="1.1" />
<line x1="253.00" y1="380.40" x2="253.00" y2="382.60" stroke="#231f20" stroke-width="1.1" />
<line x1="276.60" y1="380.40" x2="276.60" y2="382.60" stroke="#231f20" stroke-width="1.1" />
<rect x="250.00" y="364.81" width="6.00" height="15.59" fill="#1c5a8e" />
<rect x="250.00" y="354.62" width="6.00" height="10.19" fill="#3cb44b" />
<rect x="250.00" y="320.44" width="6.00" height="34.18" fill="#5b2c83" />
<line x1="253.00" y1="318.04" x2="253.00" y2="320.44" stroke="#111" stroke-width="0.8" />
<line x1="251.70" y1="318.04" x2="254.30" y2="318.04" stroke="#111" stroke-width="0.8" />
<line x1="250.60" y1="364.81" x2="255.40" y2="364.81" stroke="#1a1a1a" stroke-width="0.9" />
<line x1="253.00" y1="362.61" x2="253.00" y2="364.81" stroke="#111" stroke-width="0.7" />
<line x1="251.80" y1="362.61" x2="254.20" y2="362.61" stroke="#111" stroke-width="0.7" />
<line x1="250.60" y1="354.62" x2="255.40" y2="354.62" stroke="#1a1a1a" stroke-width="0.9" />
<line x1="253.00" y1="352.42" x2="253.00" y2="354.62" stroke="#111" stroke-width="0.7" />
<line x1="251.80" y1="352.42" x2="254.20" y2="352.42" stroke="#111" stroke-width="0.7" />
<rect x="273.60" y="359.41" width="6.00" height="20.99" fill="#1c5a8e" />
<rect x="273.60" y="343.22" width="6.00" height="16.19" fill="#3cb44b" />
<rect x="273.60" y="320.44" width="6.00" height="22.78" fill="#5b2c83" />
<line x1="276.60" y1="318.04" x2="276.60" y2="320.44" stroke="#111" stroke-width="0.8" />
<line x1="275.30" y1="318.04" x2="277.90" y2="318.04" stroke="#111" stroke-width="0.8" />
<line x1="274.20" y1="359.41" x2="279.00" y2="359.41" stroke="#1a1a1a" stroke-width="0.9" />
<line x1="276.60" y1="357.21" x2="276.60" y2="359.41" stroke="#111" stroke-width="0.7" />
<line x1="275.40" y1="357.21" x2="277.80" y2="357.21" stroke="#111" stroke-width="0.7" />
<line x1="274.20" y1="343.22" x2="279.00" y2="343.22" stroke="#1a1a1a" stroke-width="0.9" />
<line x1="276.60" y1="341.02" x2="276.60" y2="343.22" stroke="#111" stroke-width="0.7" />
<line x1="275.40" y1="341.02" x2="277.80" y2="341.02" stroke="#111" stroke-width="0.7" />
<line x1="256.00" y1="327.60" x2="273.60" y2="327.60" stroke="#8c8c8c" stroke-width="0.7" />
<text x="264.80" y="326.65" font-size="6.54" text-anchor="middle" stroke="#231f20" stroke-width="0.14">**</text>
<line x1="256.00" y1="357.60" x2="273.60" y2="357.60" stroke="#8c8c8c" stroke-width="0.7" />
<text x="264.80" y="357.05" font-size="6.54" text-anchor="middle" stroke="#231f20" stroke-width="0.14">**</text>
<line x1="256.00" y1="374.40" x2="273.60" y2="374.40" stroke="#8c8c8c" stroke-width="0.7" />
<text x="264.80" y="374.25" font-size="6.54" text-anchor="middle" stroke="#231f20" stroke-width="0.14">*</text>
<circle cx="253.10" cy="387.40" r="2.10" fill="#1d5588"/>
<circle cx="276.80" cy="387.40" r="2.10" fill="#c8183c"/>
<text x="265.20" y="402.52" font-size="8.94" text-anchor="middle" stroke="#231f20" stroke-width="0.14" textLength="49.00" lengthAdjust="spacingAndGlyphs">16 weeks after</text>
<text x="265.00" y="413.52" font-size="8.94" text-anchor="middle" stroke="#231f20" stroke-width="0.14" textLength="51.00" lengthAdjust="spacingAndGlyphs">transplantation</text>
<text x="0" y="0" transform="translate(220.60,350.40) rotate(-90)" font-size="8.6" text-anchor="middle" stroke="#231f20" stroke-width="0.14" textLength="60.70" lengthAdjust="spacingAndGlyphs">Donor derived (%)</text>
<text x="315.55" y="266.70" font-size="11.2" font-weight="bold" stroke="#231f20" stroke-width="0.3" textLength="8.63" lengthAdjust="spacingAndGlyphs">K</text>
<text x="377.90" y="310.07" font-size="7.96" text-anchor="middle" stroke="#231f20" stroke-width="0.14">2°</text>
<line x1="346.30" y1="316.80" x2="346.30" y2="380.20" stroke="#231f20" stroke-width="1.1" />
<line x1="344.10" y1="380.20" x2="346.30" y2="380.20" stroke="#231f20" stroke-width="1.1" />
<text x="340.60" y="382.88" font-size="8.28" text-anchor="end" stroke="#231f20" stroke-width="0.14" textLength="3.85" lengthAdjust="spacingAndGlyphs">0</text>
<line x1="344.10" y1="368.28" x2="346.30" y2="368.28" stroke="#231f20" stroke-width="1.1" />
<text x="340.60" y="370.96" font-size="8.28" text-anchor="end" stroke="#231f20" stroke-width="0.14" textLength="7.70" lengthAdjust="spacingAndGlyphs">20</text>
<line x1="344.10" y1="356.36" x2="346.30" y2="356.36" stroke="#231f20" stroke-width="1.1" />
<text x="340.60" y="359.04" font-size="8.28" text-anchor="end" stroke="#231f20" stroke-width="0.14" textLength="7.70" lengthAdjust="spacingAndGlyphs">40</text>
<line x1="344.10" y1="344.44" x2="346.30" y2="344.44" stroke="#231f20" stroke-width="1.1" />
<text x="340.60" y="347.12" font-size="8.28" text-anchor="end" stroke="#231f20" stroke-width="0.14" textLength="7.70" lengthAdjust="spacingAndGlyphs">60</text>
<line x1="344.10" y1="332.52" x2="346.30" y2="332.52" stroke="#231f20" stroke-width="1.1" />
<text x="340.60" y="335.20" font-size="8.28" text-anchor="end" stroke="#231f20" stroke-width="0.14" textLength="7.70" lengthAdjust="spacingAndGlyphs">80</text>
<line x1="344.10" y1="320.60" x2="346.30" y2="320.60" stroke="#231f20" stroke-width="1.1" />
<text x="340.60" y="323.28" font-size="8.28" text-anchor="end" stroke="#231f20" stroke-width="0.14" textLength="11.55" lengthAdjust="spacingAndGlyphs">100</text>
<line x1="346.30" y1="380.20" x2="410.00" y2="380.20" stroke="#231f20" stroke-width="1.1" />
<line x1="354.10" y1="380.20" x2="354.10" y2="382.40" stroke="#231f20" stroke-width="1.1" />
<line x1="370.20" y1="380.20" x2="370.20" y2="382.40" stroke="#231f20" stroke-width="1.1" />
<line x1="386.80" y1="380.20" x2="386.80" y2="382.40" stroke="#231f20" stroke-width="1.1" />
<line x1="403.20" y1="380.20" x2="403.20" y2="382.40" stroke="#231f20" stroke-width="1.1" />
<text x="354.10" y="392.88" font-size="8.28" text-anchor="middle" stroke="#231f20" stroke-width="0.14">4</text>
<text x="370.20" y="392.88" font-size="8.28" text-anchor="middle" stroke="#231f20" stroke-width="0.14">8</text>
<text x="386.80" y="392.88" font-size="8.28" text-anchor="middle" stroke="#231f20" stroke-width="0.14">12</text>
<text x="403.20" y="392.88" font-size="8.28" text-anchor="middle" stroke="#231f20" stroke-width="0.14">16</text>
<path d="M354.10,342.60 L370.20,335.20 L386.80,333.20 L403.20,327.80" fill="none" stroke="#c8183c" stroke-width="1.3" stroke-linejoin="round"/>
<line x1="354.10" y1="340.10" x2="354.10" y2="345.10" stroke="#b0102a" stroke-width="0.8" />
<line x1="352.70" y1="340.10" x2="355.50" y2="340.10" stroke="#b0102a" stroke-width="0.8" />
<line x1="352.70" y1="345.10" x2="355.50" y2="345.10" stroke="#b0102a" stroke-width="0.8" />
<circle cx="353.32" cy="342.40" r="0.95" fill="#b0102a"/>
<circle cx="356.12" cy="342.57" r="0.95" fill="#b0102a"/>
<circle cx="355.33" cy="344.99" r="0.95" fill="#b0102a"/>
<circle cx="352.86" cy="342.16" r="0.95" fill="#b0102a"/>
<circle cx="351.73" cy="339.44" r="0.95" fill="#b0102a"/>
<circle cx="355.65" cy="344.69" r="0.95" fill="#b0102a"/>
<line x1="370.20" y1="330.50" x2="370.20" y2="339.90" stroke="#b0102a" stroke-width="0.8" />
<line x1="368.80" y1="330.50" x2="371.60" y2="330.50" stroke="#b0102a" stroke-width="0.8" />
<line x1="368.80" y1="339.90" x2="371.60" y2="339.90" stroke="#b0102a" stroke-width="0.8" />
<circle cx="369.34" cy="331.83" r="0.95" fill="#b0102a"/>
<circle cx="368.30" cy="335.40" r="0.95" fill="#b0102a"/>
<circle cx="371.05" cy="337.06" r="0.95" fill="#b0102a"/>
<circle cx="371.02" cy="334.34" r="0.95" fill="#b0102a"/>
<circle cx="370.42" cy="334.02" r="0.95" fill="#b0102a"/>
<circle cx="371.44" cy="336.40" r="0.95" fill="#b0102a"/>
<line x1="386.80" y1="325.20" x2="386.80" y2="341.20" stroke="#b0102a" stroke-width="0.8" />
<line x1="385.40" y1="325.20" x2="388.20" y2="325.20" stroke="#b0102a" stroke-width="0.8" />
<line x1="385.40" y1="341.20" x2="388.20" y2="341.20" stroke="#b0102a" stroke-width="0.8" />
<circle cx="386.10" cy="332.75" r="0.95" fill="#b0102a"/>
<circle cx="389.14" cy="334.59" r="0.95" fill="#b0102a"/>
<circle cx="385.26" cy="327.81" r="0.95" fill="#b0102a"/>
<circle cx="384.62" cy="336.74" r="0.95" fill="#b0102a"/>
<circle cx="388.76" cy="323.95" r="0.95" fill="#b0102a"/>
<circle cx="389.26" cy="338.15" r="0.95" fill="#b0102a"/>
<line x1="403.20" y1="326.30" x2="403.20" y2="329.30" stroke="#b0102a" stroke-width="0.8" />
<line x1="401.80" y1="326.30" x2="404.60" y2="326.30" stroke="#b0102a" stroke-width="0.8" />
<line x1="401.80" y1="329.30" x2="404.60" y2="329.30" stroke="#b0102a" stroke-width="0.8" />
<circle cx="401.61" cy="328.06" r="0.95" fill="#b0102a"/>
<circle cx="400.80" cy="326.54" r="0.95" fill="#b0102a"/>
<circle cx="404.61" cy="327.51" r="0.95" fill="#b0102a"/>
<circle cx="403.30" cy="328.33" r="0.95" fill="#b0102a"/>
<circle cx="404.76" cy="325.97" r="0.95" fill="#b0102a"/>
<circle cx="404.47" cy="327.03" r="0.95" fill="#b0102a"/>
<path d="M354.10,354.70 L370.20,350.30 L386.80,346.60 L403.20,349.30" fill="none" stroke="#1d5588" stroke-width="1.3" stroke-linejoin="round"/>
<line x1="354.10" y1="350.30" x2="354.10" y2="359.10" stroke="#163e66" stroke-width="0.8" />
<line x1="352.70" y1="350.30" x2="355.50" y2="350.30" stroke="#163e66" stroke-width="0.8" />
<line x1="352.70" y1="359.10" x2="355.50" y2="359.10" stroke="#163e66" stroke-width="0.8" />
<circle cx="356.04" cy="357.77" r="0.95" fill="#163e66"/>
<circle cx="352.45" cy="351.76" r="0.95" fill="#163e66"/>
<circle cx="355.90" cy="350.00" r="0.95" fill="#163e66"/>
<circle cx="356.63" cy="359.59" r="0.95" fill="#163e66"/>
<circle cx="356.70" cy="349.09" r="0.95" fill="#163e66"/>
<circle cx="353.79" cy="356.93" r="0.95" fill="#163e66"/>
<line x1="370.20" y1="343.90" x2="370.20" y2="356.70" stroke="#163e66" stroke-width="0.8" />
<line x1="368.80" y1="343.90" x2="371.60" y2="343.90" stroke="#163e66" stroke-width="0.8" />
<line x1="368.80" y1="356.70" x2="371.60" y2="356.70" stroke="#163e66" stroke-width="0.8" />
<circle cx="369.47" cy="342.28" r="0.95" fill="#163e66"/>
<circle cx="370.55" cy="343.56" r="0.95" fill="#163e66"/>
<circle cx="370.00" cy="353.70" r="0.95" fill="#163e66"/>
<circle cx="370.02" cy="344.94" r="0.95" fill="#163e66"/>
<circle cx="371.43" cy="349.57" r="0.95" fill="#163e66"/>
<circle cx="370.55" cy="357.53" r="0.95" fill="#163e66"/>
<line x1="386.80" y1="343.60" x2="386.80" y2="349.60" stroke="#163e66" stroke-width="0.8" />
<line x1="385.40" y1="343.60" x2="388.20" y2="343.60" stroke="#163e66" stroke-width="0.8" />
<line x1="385.40" y1="349.60" x2="388.20" y2="349.60" stroke="#163e66" stroke-width="0.8" />
<circle cx="388.91" cy="347.37" r="0.95" fill="#163e66"/>
<circle cx="387.09" cy="347.84" r="0.95" fill="#163e66"/>
<circle cx="388.51" cy="350.25" r="0.95" fill="#163e66"/>
<circle cx="388.25" cy="345.52" r="0.95" fill="#163e66"/>
<circle cx="384.53" cy="347.44" r="0.95" fill="#163e66"/>
<circle cx="386.70" cy="344.15" r="0.95" fill="#163e66"/>
<line x1="403.20" y1="344.60" x2="403.20" y2="354.00" stroke="#163e66" stroke-width="0.8" />
<line x1="401.80" y1="344.60" x2="404.60" y2="344.60" stroke="#163e66" stroke-width="0.8" />
<line x1="401.80" y1="354.00" x2="404.60" y2="354.00" stroke="#163e66" stroke-width="0.8" />
<circle cx="404.87" cy="354.73" r="0.95" fill="#163e66"/>
<circle cx="401.07" cy="349.65" r="0.95" fill="#163e66"/>
<circle cx="404.04" cy="348.93" r="0.95" fill="#163e66"/>
<circle cx="401.77" cy="349.46" r="0.95" fill="#163e66"/>
<circle cx="402.96" cy="345.50" r="0.95" fill="#163e66"/>
<circle cx="403.45" cy="343.42" r="0.95" fill="#163e66"/>
<path d="M352.30,361.65L352.30,363.95M353.30,362.23L351.30,363.38M353.30,363.38L351.30,362.23" stroke="#231f20" stroke-width="0.85" fill="none"/>
<path d="M355.90,361.65L355.90,363.95M356.90,362.23L354.90,363.38M356.90,363.38L354.90,362.23" stroke="#231f20" stroke-width="0.85" fill="none"/>
<path d="M368.40,360.95L368.40,363.25M369.40,361.53L367.40,362.68M369.40,362.68L367.40,361.53" stroke="#231f20" stroke-width="0.85" fill="none"/>
<path d="M372.00,360.95L372.00,363.25M373.00,361.53L371.00,362.68M373.00,362.68L371.00,361.53" stroke="#231f20" stroke-width="0.85" fill="none"/>
<path d="M383.20,353.95L383.20,356.25M384.20,354.53L382.20,355.68M384.20,355.68L382.20,354.53" stroke="#231f20" stroke-width="0.85" fill="none"/>
<path d="M386.80,353.95L386.80,356.25M387.80,354.53L385.80,355.68M387.80,355.68L385.80,354.53" stroke="#231f20" stroke-width="0.85" fill="none"/>
<path d="M390.40,353.95L390.40,356.25M391.40,354.53L389.40,355.68M391.40,355.68L389.40,354.53" stroke="#231f20" stroke-width="0.85" fill="none"/>
<path d="M401.40,357.95L401.40,360.25M402.40,358.53L400.40,359.68M402.40,359.68L400.40,358.53" stroke="#231f20" stroke-width="0.85" fill="none"/>
<path d="M405.00,357.95L405.00,360.25M406.00,358.53L404.00,359.68M406.00,359.68L404.00,358.53" stroke="#231f20" stroke-width="0.85" fill="none"/>
<text x="378.10" y="404.72" font-size="8.94" text-anchor="middle" stroke="#231f20" stroke-width="0.14" textLength="33.00" lengthAdjust="spacingAndGlyphs">Time after</text>
<text x="378.20" y="416.92" font-size="8.94" text-anchor="middle" stroke="#231f20" stroke-width="0.14" textLength="77.00" lengthAdjust="spacingAndGlyphs">transplantation (weeks)</text>
<text x="0" y="0" transform="translate(322.60,350.40) rotate(-90)" font-size="8.6" text-anchor="middle" stroke="#231f20" stroke-width="0.14" textLength="60.70" lengthAdjust="spacingAndGlyphs">Donor derived (%)</text>
<text x="426.19" y="266.70" font-size="11.2" font-weight="bold" stroke="#231f20" stroke-width="0.3" textLength="5.97" lengthAdjust="spacingAndGlyphs">L</text>
<rect x="427.50" y="273.80" width="4.80" height="4.80" fill="#5b2c83" />
<text x="435.70" y="278.77" font-size="7.96" stroke="#231f20" stroke-width="0.14" textLength="27.50" lengthAdjust="spacingAndGlyphs">Myeloid</text>
<rect x="427.50" y="284.00" width="4.80" height="4.80" fill="#3cb44b" />
<text x="435.70" y="288.97" font-size="7.96" stroke="#231f20" stroke-width="0.14" textLength="37.00" lengthAdjust="spacingAndGlyphs">T lymphoid</text>
<rect x="427.50" y="294.30" width="4.80" height="4.80" fill="#1c5a8e" />
<text x="435.70" y="299.27" font-size="7.96" stroke="#231f20" stroke-width="0.14" textLength="38.00" lengthAdjust="spacingAndGlyphs">B lymphoid</text>
<circle cx="482.50" cy="276.20" r="2.40" fill="#1d5588"/>
<text x="487.90" y="278.77" font-size="7.96" stroke="#231f20" stroke-width="0.14" textLength="26.20" lengthAdjust="spacingAndGlyphs">Old WT</text>
<circle cx="482.50" cy="286.40" r="2.40" fill="#c8183c"/>
<text x="487.90" y="288.97" font-size="7.96" stroke="#231f20" stroke-width="0.14" textLength="12.50" lengthAdjust="spacingAndGlyphs">Old</text>
<text x="487.90" y="298.47" font-size="7.96" stroke="#231f20" stroke-width="0.14"><tspan textLength="20.20" lengthAdjust="spacingAndGlyphs">Sphk2</tspan><tspan font-size="4.776" dy="-3.18" dx="0.3" stroke-width="0.08" textLength="8.50" lengthAdjust="spacingAndGlyphs">Δ/Δ</tspan></text>
<text x="479.00" y="310.07" font-size="7.96" text-anchor="middle" stroke="#231f20" stroke-width="0.14">2°</text>
<line x1="458.30" y1="316.80" x2="458.30" y2="380.40" stroke="#231f20" stroke-width="1.1" />
<line x1="456.10" y1="380.40" x2="458.30" y2="380.40" stroke="#231f20" stroke-width="1.1" />
<text x="454.20" y="383.08" font-size="8.28" text-anchor="end" stroke="#231f20" stroke-width="0.14" textLength="3.85" lengthAdjust="spacingAndGlyphs">0</text>
<line x1="456.10" y1="368.41" x2="458.30" y2="368.41" stroke="#231f20" stroke-width="1.1" />
<text x="454.20" y="371.09" font-size="8.28" text-anchor="end" stroke="#231f20" stroke-width="0.14" textLength="7.70" lengthAdjust="spacingAndGlyphs">20</text>
<line x1="456.10" y1="356.42" x2="458.30" y2="356.42" stroke="#231f20" stroke-width="1.1" />
<text x="454.20" y="359.10" font-size="8.28" text-anchor="end" stroke="#231f20" stroke-width="0.14" textLength="7.70" lengthAdjust="spacingAndGlyphs">40</text>
<line x1="456.10" y1="344.42" x2="458.30" y2="344.42" stroke="#231f20" stroke-width="1.1" />
<text x="454.20" y="347.10" font-size="8.28" text-anchor="end" stroke="#231f20" stroke-width="0.14" textLength="7.70" lengthAdjust="spacingAndGlyphs">60</text>
<line x1="456.10" y1="332.43" x2="458.30" y2="332.43" stroke="#231f20" stroke-width="1.1" />
<text x="454.20" y="335.11" font-size="8.28" text-anchor="end" stroke="#231f20" stroke-width="0.14" textLength="7.70" lengthAdjust="spacingAndGlyphs">80</text>
<line x1="456.10" y1="320.44" x2="458.30" y2="320.44" stroke="#231f20" stroke-width="1.1" />
<text x="454.20" y="323.12" font-size="8.28" text-anchor="end" stroke="#231f20" stroke-width="0.14" textLength="11.55" lengthAdjust="spacingAndGlyphs">100</text>
<line x1="458.30" y1="380.40" x2="498.60" y2="380.40" stroke="#231f20" stroke-width="1.1" />
<line x1="467.35" y1="380.40" x2="467.35" y2="382.60" stroke="#231f20" stroke-width="1.1" />
<line x1="491.10" y1="380.40" x2="491.10" y2="382.60" stroke="#231f20" stroke-width="1.1" />
<rect x="464.70" y="365.41" width="5.30" height="14.99" fill="#1c5a8e" />
<rect x="464.70" y="355.82" width="5.30" height="9.59" fill="#3cb44b" />
<rect x="464.70" y="320.44" width="5.30" height="35.38" fill="#5b2c83" />
<line x1="467.35" y1="318.04" x2="467.35" y2="320.44" stroke="#111" stroke-width="0.8" />
<line x1="466.05" y1="318.04" x2="468.65" y2="318.04" stroke="#111" stroke-width="0.8" />
<line x1="465.30" y1="365.41" x2="469.40" y2="365.41" stroke="#1a1a1a" stroke-width="0.9" />
<line x1="467.35" y1="363.21" x2="467.35" y2="365.41" stroke="#111" stroke-width="0.7" />
<line x1="466.15" y1="363.21" x2="468.55" y2="363.21" stroke="#111" stroke-width="0.7" />
<line x1="465.30" y1="355.82" x2="469.40" y2="355.82" stroke="#1a1a1a" stroke-width="0.9" />
<line x1="467.35" y1="353.62" x2="467.35" y2="355.82" stroke="#111" stroke-width="0.7" />
<line x1="466.15" y1="353.62" x2="468.55" y2="353.62" stroke="#111" stroke-width="0.7" />
<rect x="488.30" y="358.21" width="5.60" height="22.19" fill="#1c5a8e" />
<rect x="488.30" y="346.22" width="5.60" height="11.99" fill="#3cb44b" />
<rect x="488.30" y="320.44" width="5.60" height="25.78" fill="#5b2c83" />
<line x1="491.10" y1="318.04" x2="491.10" y2="320.44" stroke="#111" stroke-width="0.8" />
<line x1="489.80" y1="318.04" x2="492.40" y2="318.04" stroke="#111" stroke-width="0.8" />
<line x1="488.90" y1="358.21" x2="493.30" y2="358.21" stroke="#1a1a1a" stroke-width="0.9" />
<line x1="491.10" y1="356.01" x2="491.10" y2="358.21" stroke="#111" stroke-width="0.7" />
<line x1="489.90" y1="356.01" x2="492.30" y2="356.01" stroke="#111" stroke-width="0.7" />
<line x1="488.90" y1="346.22" x2="493.30" y2="346.22" stroke="#1a1a1a" stroke-width="0.9" />
<line x1="491.10" y1="344.02" x2="491.10" y2="346.22" stroke="#111" stroke-width="0.7" />
<line x1="489.90" y1="344.02" x2="492.30" y2="344.02" stroke="#111" stroke-width="0.7" />
<line x1="470.00" y1="331.50" x2="488.30" y2="331.50" stroke="#8c8c8c" stroke-width="0.7" />
<text x="479.20" y="330.55" font-size="6.54" text-anchor="middle" stroke="#231f20" stroke-width="0.14">*</text>
<line x1="470.00" y1="371.10" x2="488.30" y2="371.10" stroke="#8c8c8c" stroke-width="0.7" />
<text x="479.20" y="370.25" font-size="6.54" text-anchor="middle" stroke="#231f20" stroke-width="0.14">*</text>
<line x1="470.00" y1="360.40" x2="488.30" y2="355.00" stroke="#8c8c8c" stroke-width="0.7" />
<text x="479.50" y="354.28" font-size="6.32" text-anchor="middle" stroke="#231f20" stroke-width="0.14" textLength="10.50" lengthAdjust="spacingAndGlyphs">N.S.</text>
<circle cx="467.50" cy="387.40" r="2.10" fill="#1d5588"/>
<circle cx="491.10" cy="387.40" r="2.10" fill="#c8183c"/>
<text x="479.20" y="402.52" font-size="8.94" text-anchor="middle" stroke="#231f20" stroke-width="0.14" textLength="49.00" lengthAdjust="spacingAndGlyphs">16 weeks after</text>
<text x="479.00" y="413.52" font-size="8.94" text-anchor="middle" stroke="#231f20" stroke-width="0.14" textLength="51.00" lengthAdjust="spacingAndGlyphs">transplantation</text>
<text x="0" y="0" transform="translate(435.10,350.40) rotate(-90)" font-size="8.6" text-anchor="middle" stroke="#231f20" stroke-width="0.14" textLength="60.70" lengthAdjust="spacingAndGlyphs">Donor derived (%)</text>
<text x="3.08" y="444.70" font-size="11.2" font-weight="bold" stroke="#231f20" stroke-width="0.3" textLength="11.46" lengthAdjust="spacingAndGlyphs">M</text>
<text x="58.60" y="455.22" font-size="8.39" fill="#2a2a2a" stroke="#2a2a2a" stroke-width="0.14" textLength="41.50" lengthAdjust="spacingAndGlyphs">2-month-old</text>
<text x="72.40" y="463.82" font-size="8.39" fill="#2a2a2a" stroke="#2a2a2a" stroke-width="0.14" textLength="14.70" lengthAdjust="spacingAndGlyphs">HSC</text>
<path d="M50.5,454 L53.8,455.2 L52.6,459.5 Q57,461 59.5,464.5 L57.5,470.5 Q52,470 49.5,468 L46.5,471.2 L44,469.6 L47.8,465.5 Q47.5,461.5 49.8,459.2 Z" fill="#d6dde8"/>
<path d="M62.4,462.4 L69.3,461.4 L66.7,469.3 L60.6,471.2 Z" fill="#2e1535" stroke="#2e1535" stroke-width="1.2" stroke-linejoin="round"/>
<circle cx="63.50" cy="468.80" r="0.45" fill="#b89ab8"/>
<circle cx="66.20" cy="464.10" r="0.45" fill="#b89ab8"/>
<circle cx="65.20" cy="466.60" r="0.45" fill="#b89ab8"/>
<circle cx="62.80" cy="465.80" r="0.45" fill="#b89ab8"/>
<circle cx="67.00" cy="467.50" r="0.45" fill="#b89ab8"/>
<text x="97.50" y="468.32" font-size="8.39" fill="#c8385a" stroke="#c8385a" stroke-width="0.14" textLength="16.40" lengthAdjust="spacingAndGlyphs">Virus</text>
<g transform="translate(105.3,473.7)" fill="#a01830" stroke="#a01830" stroke-width="0.6"><circle r="2.6"/><line x1="0" y1="0" x2="3.60" y2="0.00"/><line x1="0" y1="0" x2="2.91" y2="2.12"/><line x1="0" y1="0" x2="1.11" y2="3.42"/><line x1="0" y1="0" x2="-1.11" y2="3.42"/><line x1="0" y1="0" x2="-2.91" y2="2.12"/><line x1="0" y1="0" x2="-3.60" y2="0.00"/><line x1="0" y1="0" x2="-2.91" y2="-2.12"/><line x1="0" y1="0" x2="-1.11" y2="-3.42"/><line x1="0" y1="0" x2="1.11" y2="-3.42"/><line x1="0" y1="0" x2="2.91" y2="-2.12"/></g>
<text x="30.90" y="484.22" font-size="8.39" fill="#2a2a2a" stroke="#2a2a2a" stroke-width="0.14" textLength="25.90" lengthAdjust="spacingAndGlyphs">CD45.2</text>
<line x1="63.70" y1="470.30" x2="63.70" y2="487.60" stroke="#231f20" stroke-width="0.8" />
<path d="M63.70,488.10 L62.40,485.35 L65.00,485.35 Z" fill="#231f20"/>
<text x="66.70" y="481.12" font-size="8.39" fill="#c8385a" stroke="#c8385a" stroke-width="0.14" textLength="33.90" lengthAdjust="spacingAndGlyphs">Sphk2 OE</text>
<line x1="81.90" y1="483.30" x2="74.70" y2="488.50" stroke="#231f20" stroke-width="0.7" />
<path d="M74.29,488.79 L75.60,486.49 L76.89,488.28 Z" fill="#231f20"/>
<g><path d="M51.8,492.8 L51.8,496.3 Q52,498.6 56,498.6 L72,498.6 Q76.2,498.6 76.2,496.3 L76.2,492.8" fill="#ece4e8" stroke="#666" stroke-width="0.6"/><ellipse cx="64.0" cy="492.6" rx="12.2" ry="2.1" fill="#f6f2f4" stroke="#666" stroke-width="0.6"/></g>
<circle cx="54.00" cy="496.60" r="1.45" fill="#8a7aa8" stroke="#2a1440" stroke-width="0.9"/>
<circle cx="57.25" cy="496.60" r="1.45" fill="#8a7aa8" stroke="#2a1440" stroke-width="0.9"/>
<circle cx="60.50" cy="496.60" r="1.45" fill="#8a7aa8" stroke="#2a1440" stroke-width="0.9"/>
<circle cx="63.75" cy="496.60" r="1.45" fill="#8a7aa8" stroke="#2a1440" stroke-width="0.9"/>
<circle cx="67.00" cy="496.60" r="1.45" fill="#8a7aa8" stroke="#2a1440" stroke-width="0.9"/>
<circle cx="70.25" cy="496.60" r="1.45" fill="#8a7aa8" stroke="#2a1440" stroke-width="0.9"/>
<text x="8.70" y="509.22" font-size="8.39" fill="#2a2a2a" stroke="#2a2a2a" stroke-width="0.14" textLength="49.00" lengthAdjust="spacingAndGlyphs">ex vivo culture</text>
<line x1="63.70" y1="501.40" x2="63.70" y2="512.70" stroke="#231f20" stroke-width="0.8" />
<path d="M63.70,513.20 L62.40,510.45 L65.00,510.45 Z" fill="#231f20"/>
<text x="72.40" y="509.22" font-size="8.39" fill="#2a2a2a" stroke="#2a2a2a" stroke-width="0.14" textLength="17.30" lengthAdjust="spacingAndGlyphs">2×10</text>
<text x="90.40" y="505.30" font-size="5.01" fill="#2a2a2a" stroke="#2a2a2a" stroke-width="0.05">5</text>
<text x="94.90" y="509.22" font-size="8.39" fill="#2a2a2a" stroke="#2a2a2a" stroke-width="0.14" textLength="24.20" lengthAdjust="spacingAndGlyphs">CD45.1</text>
<text x="87.10" y="518.32" font-size="8.39" fill="#2a2a2a" stroke="#2a2a2a" stroke-width="0.14" textLength="17.70" lengthAdjust="spacingAndGlyphs">WBM</text>
<text x="28.50" y="519.82" font-size="8.39" fill="#c8385a" stroke="#c8385a" stroke-width="0.14" textLength="25.30" lengthAdjust="spacingAndGlyphs">Purified</text>
<text x="24.60" y="528.12" font-size="8.39" fill="#c8385a" stroke="#c8385a" stroke-width="0.14" textLength="32.70" lengthAdjust="spacingAndGlyphs">200 HSCs</text>
<circle cx="63.70" cy="518.50" r="1.50" fill="#8c1c3c"/>
<circle cx="65.20" cy="521.30" r="1.50" fill="#8c1c3c"/>
<circle cx="62.30" cy="521.50" r="1.50" fill="#8c1c3c"/>
<circle cx="63.70" cy="523.70" r="1.50" fill="#8c1c3c"/>
<circle cx="64.90" cy="517.00" r="1.50" fill="#8c1c3c"/>
<text x="73.20" y="523.05" font-size="7.09" text-anchor="middle" fill="#777" stroke="#777" stroke-width="0.14">+</text>
<circle cx="83.30" cy="519.80" r="1.50" fill="#8c1c3c"/>
<circle cx="85.58" cy="518.56" r="1.50" fill="#8c1c3c"/>
<circle cx="81.02" cy="521.03" r="1.50" fill="#8c1c3c"/>
<circle cx="85.58" cy="521.22" r="1.50" fill="#8c1c3c"/>
<circle cx="81.21" cy="518.38" r="1.50" fill="#8c1c3c"/>
<circle cx="83.30" cy="522.46" r="1.50" fill="#8c1c3c"/>
<circle cx="83.30" cy="517.14" r="1.50" fill="#8c1c3c"/>
<line x1="73.00" y1="526.00" x2="73.00" y2="537.80" stroke="#231f20" stroke-width="0.8" />
<path d="M73.00,538.30 L71.70,535.55 L74.30,535.55 Z" fill="#231f20"/>
<text x="15.40" y="544.42" font-size="8.39" fill="#2a2a2a" stroke="#2a2a2a" stroke-width="0.14" textLength="32.60" lengthAdjust="spacingAndGlyphs">Irradiated</text>
<text x="3.50" y="553.52" font-size="8.39" fill="#2a2a2a" stroke="#2a2a2a" stroke-width="0.14" textLength="56.50" lengthAdjust="spacingAndGlyphs">CD45.1 recipient</text>
<line x1="60.20" y1="550.80" x2="65.40" y2="550.80" stroke="#e07080" stroke-width="0.6" />
<g transform="translate(75.60,547.40) scale(1.750)"><path d="M-3.2,2.2 Q-6.5,2.6 -10,1.9" fill="none" stroke="#d8b4bc" stroke-width="0.7"/><ellipse cx="0" cy="0" rx="3.4" ry="2.6" fill="#c4bfbf"/><ellipse cx="3.3" cy="-1.6" rx="2.1" ry="1.4" transform="rotate(-20 3.3 -1.6)" fill="#c4bfbf"/><circle cx="2.4" cy="-3.0" r="0.8" fill="#d9a0ae"/><rect x="-2.2" y="2.2" width="4.6" height="0.6" fill="#d8b4bc"/></g>
<line x1="73.00" y1="555.00" x2="73.00" y2="567.50" stroke="#231f20" stroke-width="0.8" />
<path d="M73.00,568.00 L71.70,565.25 L74.30,565.25 Z" fill="#231f20"/>
<text x="54.50" y="575.22" font-size="8.39" fill="#2a2a2a" stroke="#2a2a2a" stroke-width="0.14" textLength="36.80" lengthAdjust="spacingAndGlyphs">PB analysis</text>
<text x="138.95" y="444.70" font-size="11.2" font-weight="bold" stroke="#231f20" stroke-width="0.3" textLength="9.72" lengthAdjust="spacingAndGlyphs">N</text>
<text x="154.10" y="453.97" font-size="7.96" stroke="#231f20" stroke-width="0.14" textLength="10.60" lengthAdjust="spacingAndGlyphs">KD</text>
<text x="166.30" y="451.78" font-size="6.32" stroke="#231f20" stroke-width="0.14" textLength="18.80" lengthAdjust="spacingAndGlyphs">Vector</text>
<text x="190.00" y="451.78" font-size="6.32" stroke="#231f20" stroke-width="0.14" textLength="27.80" lengthAdjust="spacingAndGlyphs">Sphk2 OE</text>
<text x="164.00" y="462.97" font-size="7.96" text-anchor="end" stroke="#231f20" stroke-width="0.14">75</text>
<text x="164.00" y="475.97" font-size="7.96" text-anchor="end" stroke="#231f20" stroke-width="0.14">45</text>
<line x1="164.60" y1="460.40" x2="167.20" y2="460.40" stroke="#231f20" stroke-width="0.8" />
<line x1="164.60" y1="473.00" x2="167.20" y2="473.00" stroke="#231f20" stroke-width="0.8" />
<rect x="167.20" y="456.30" width="40.00" height="8.60" fill="#c6c6c6" stroke="#333" stroke-width="0.9" />
<rect x="167.20" y="468.20" width="40.00" height="8.50" fill="#d0d0d0" stroke="#333" stroke-width="0.9" />
<ellipse cx="176.20" cy="460.80" rx="5.60" ry="2.50" fill="#0a0a0a" />
<ellipse cx="198.30" cy="460.80" rx="5.40" ry="2.50" fill="#0a0a0a" />
<ellipse cx="175.70" cy="473.00" rx="3.60" ry="1.20" fill="#1a1a1a" />
<ellipse cx="198.60" cy="473.00" rx="5.20" ry="2.80" fill="#0a0a0a" />
<text x="208.80" y="462.87" font-size="7.96" stroke="#231f20" stroke-width="0.14" textLength="21.30" lengthAdjust="spacingAndGlyphs">Sphk2</text>
<text x="208.00" y="475.97" font-size="7.96" stroke="#231f20" stroke-width="0.14" textLength="23.70" lengthAdjust="spacingAndGlyphs">β-actin</text>
<line x1="169.70" y1="484.70" x2="169.70" y2="539.20" stroke="#231f20" stroke-width="1.1" />
<line x1="167.50" y1="539.20" x2="169.70" y2="539.20" stroke="#231f20" stroke-width="1.1" />
<text x="164.40" y="541.96" font-size="8.5" text-anchor="end" stroke="#231f20" stroke-width="0.14" textLength="10.20" lengthAdjust="spacingAndGlyphs">0.0</text>
<line x1="167.50" y1="529.20" x2="169.70" y2="529.20" stroke="#231f20" stroke-width="1.1" />
<text x="164.40" y="531.96" font-size="8.5" text-anchor="end" stroke="#231f20" stroke-width="0.14" textLength="10.20" lengthAdjust="spacingAndGlyphs">0.2</text>
<line x1="167.50" y1="519.20" x2="169.70" y2="519.20" stroke="#231f20" stroke-width="1.1" />
<text x="164.40" y="521.96" font-size="8.5" text-anchor="end" stroke="#231f20" stroke-width="0.14" textLength="10.20" lengthAdjust="spacingAndGlyphs">0.4</text>
<line x1="167.50" y1="509.30" x2="169.70" y2="509.30" stroke="#231f20" stroke-width="1.1" />
<text x="164.40" y="512.06" font-size="8.5" text-anchor="end" stroke="#231f20" stroke-width="0.14" textLength="10.20" lengthAdjust="spacingAndGlyphs">0.6</text>
<line x1="167.50" y1="499.50" x2="169.70" y2="499.50" stroke="#231f20" stroke-width="1.1" />
<text x="164.40" y="502.26" font-size="8.5" text-anchor="end" stroke="#231f20" stroke-width="0.14" textLength="10.20" lengthAdjust="spacingAndGlyphs">0.8</text>
<line x1="167.50" y1="489.50" x2="169.70" y2="489.50" stroke="#231f20" stroke-width="1.1" />
<text x="164.40" y="492.26" font-size="8.5" text-anchor="end" stroke="#231f20" stroke-width="0.14" textLength="10.20" lengthAdjust="spacingAndGlyphs">1.0</text>
<line x1="169.70" y1="539.20" x2="218.75" y2="539.20" stroke="#231f20" stroke-width="1.1" />
<line x1="179.40" y1="539.20" x2="179.40" y2="541.40" stroke="#231f20" stroke-width="1.1" />
<line x1="208.40" y1="539.20" x2="208.40" y2="541.40" stroke="#231f20" stroke-width="1.1" />
<rect x="175.00" y="523.00" width="8.75" height="16.50" fill="#8aaccb" />
<rect x="203.75" y="504.50" width="9.25" height="35.00" fill="#e8808f" />
<line x1="179.40" y1="521.50" x2="179.40" y2="523.00" stroke="#231f20" stroke-width="0.7" />
<line x1="178.20" y1="521.50" x2="180.60" y2="521.50" stroke="#231f20" stroke-width="0.7" />
<line x1="208.40" y1="501.80" x2="208.40" y2="504.50" stroke="#231f20" stroke-width="0.7" />
<line x1="207.20" y1="501.80" x2="209.60" y2="501.80" stroke="#231f20" stroke-width="0.7" />
<circle cx="177.00" cy="522.00" r="0.80" fill="#163e66"/>
<circle cx="181.50" cy="523.50" r="0.80" fill="#163e66"/>
<circle cx="179.00" cy="521.00" r="0.80" fill="#163e66"/>
<circle cx="206.00" cy="505.00" r="0.80" fill="#b0102a"/>
<circle cx="208.40" cy="497.00" r="0.80" fill="#b0102a"/>
<circle cx="210.50" cy="508.00" r="0.80" fill="#b0102a"/>
<path d="M206.20,490.10L206.20,492.40M207.20,490.68L205.20,491.82M207.20,491.82L205.20,490.68" stroke="#231f20" stroke-width="0.85" fill="none"/>
<path d="M209.80,490.10L209.80,492.40M210.80,490.68L208.80,491.82M210.80,491.82L208.80,490.68" stroke="#231f20" stroke-width="0.85" fill="none"/>
<text x="179.50" y="552.07" font-size="7.96" text-anchor="middle" stroke="#231f20" stroke-width="0.14" textLength="21.50" lengthAdjust="spacingAndGlyphs">Vector</text>
<text x="208.00" y="552.07" font-size="7.96" text-anchor="middle" stroke="#231f20" stroke-width="0.14" textLength="20.50" lengthAdjust="spacingAndGlyphs">Sphk2</text>
<text x="208.00" y="560.37" font-size="7.96" text-anchor="middle" stroke="#231f20" stroke-width="0.14" textLength="10.00" lengthAdjust="spacingAndGlyphs">OE</text>
<text x="0" y="0" transform="translate(148.60,512.00) rotate(-90)" font-size="8.6" text-anchor="middle" stroke="#231f20" stroke-width="0.14" textLength="69.80" lengthAdjust="spacingAndGlyphs">Relative Sphk2 (fold)</text>
<ellipse cx="257.25" cy="440.5" rx="3.45" ry="3.2" fill="none" stroke="#231f20" stroke-width="1.95"/>
<circle cx="285.20" cy="453.70" r="2.00" fill="#1d5588"/>
<text x="290.60" y="456.27" font-size="7.96" stroke="#231f20" stroke-width="0.14" textLength="22.30" lengthAdjust="spacingAndGlyphs">Vector</text>
<circle cx="322.90" cy="453.70" r="2.00" fill="#c8183c"/>
<text x="328.30" y="456.27" font-size="7.96" stroke="#231f20" stroke-width="0.14" textLength="35.00" lengthAdjust="spacingAndGlyphs">Sphk2 OE</text>
<line x1="279.80" y1="466.30" x2="279.80" y2="539.00" stroke="#231f20" stroke-width="1.1" />
<line x1="277.60" y1="539.00" x2="279.80" y2="539.00" stroke="#231f20" stroke-width="1.1" />
<text x="275.20" y="541.68" font-size="8.28" text-anchor="end" stroke="#231f20" stroke-width="0.14" textLength="3.85" lengthAdjust="spacingAndGlyphs">0</text>
<line x1="277.60" y1="524.90" x2="279.80" y2="524.90" stroke="#231f20" stroke-width="1.1" />
<text x="275.20" y="527.58" font-size="8.28" text-anchor="end" stroke="#231f20" stroke-width="0.14" textLength="7.70" lengthAdjust="spacingAndGlyphs">10</text>
<line x1="277.60" y1="510.80" x2="279.80" y2="510.80" stroke="#231f20" stroke-width="1.1" />
<text x="275.20" y="513.48" font-size="8.28" text-anchor="end" stroke="#231f20" stroke-width="0.14" textLength="7.70" lengthAdjust="spacingAndGlyphs">20</text>
<line x1="277.60" y1="496.70" x2="279.80" y2="496.70" stroke="#231f20" stroke-width="1.1" />
<text x="275.20" y="499.38" font-size="8.28" text-anchor="end" stroke="#231f20" stroke-width="0.14" textLength="7.70" lengthAdjust="spacingAndGlyphs">30</text>
<line x1="277.60" y1="482.60" x2="279.80" y2="482.60" stroke="#231f20" stroke-width="1.1" />
<text x="275.20" y="485.28" font-size="8.28" text-anchor="end" stroke="#231f20" stroke-width="0.14" textLength="7.70" lengthAdjust="spacingAndGlyphs">40</text>
<line x1="277.60" y1="468.50" x2="279.80" y2="468.50" stroke="#231f20" stroke-width="1.1" />
<text x="275.20" y="471.18" font-size="8.28" text-anchor="end" stroke="#231f20" stroke-width="0.14" textLength="7.70" lengthAdjust="spacingAndGlyphs">50</text>
<line x1="279.80" y1="539.00" x2="360.60" y2="539.00" stroke="#231f20" stroke-width="1.1" />
<line x1="280.30" y1="539.00" x2="280.30" y2="541.20" stroke="#231f20" stroke-width="1.1" />
<line x1="299.20" y1="539.00" x2="299.20" y2="541.20" stroke="#231f20" stroke-width="1.1" />
<line x1="316.50" y1="539.00" x2="316.50" y2="541.20" stroke="#231f20" stroke-width="1.1" />
<line x1="334.50" y1="539.00" x2="334.50" y2="541.20" stroke="#231f20" stroke-width="1.1" />
<line x1="352.70" y1="539.00" x2="352.70" y2="541.20" stroke="#231f20" stroke-width="1.1" />
<text x="280.30" y="551.38" font-size="8.28" text-anchor="middle" stroke="#231f20" stroke-width="0.14">0</text>
<text x="299.20" y="551.38" font-size="8.28" text-anchor="middle" stroke="#231f20" stroke-width="0.14">4</text>
<text x="316.50" y="551.38" font-size="8.28" text-anchor="middle" stroke="#231f20" stroke-width="0.14">8</text>
<text x="334.50" y="551.38" font-size="8.28" text-anchor="middle" stroke="#231f20" stroke-width="0.14">12</text>
<text x="352.70" y="551.38" font-size="8.28" text-anchor="middle" stroke="#231f20" stroke-width="0.14">16</text>
<path d="M299.20,519.60 L316.50,510.40 L334.50,508.50 L352.70,501.20" fill="none" stroke="#c8183c" stroke-width="1.2" stroke-linejoin="round"/>
<line x1="299.20" y1="516.90" x2="299.20" y2="522.30" stroke="#b0102a" stroke-width="0.8" />
<line x1="297.80" y1="516.90" x2="300.60" y2="516.90" stroke="#b0102a" stroke-width="0.8" />
<line x1="297.80" y1="522.30" x2="300.60" y2="522.30" stroke="#b0102a" stroke-width="0.8" />
<circle cx="296.18" cy="520.93" r="0.95" fill="#b0102a"/>
<circle cx="300.41" cy="519.45" r="0.95" fill="#b0102a"/>
<circle cx="296.64" cy="521.65" r="0.95" fill="#b0102a"/>
<circle cx="301.97" cy="519.69" r="0.95" fill="#b0102a"/>
<circle cx="299.25" cy="517.75" r="0.95" fill="#b0102a"/>
<circle cx="294.73" cy="518.69" r="0.95" fill="#b0102a"/>
<line x1="316.50" y1="507.70" x2="316.50" y2="513.10" stroke="#b0102a" stroke-width="0.8" />
<line x1="315.10" y1="507.70" x2="317.90" y2="507.70" stroke="#b0102a" stroke-width="0.8" />
<line x1="315.10" y1="513.10" x2="317.90" y2="513.10" stroke="#b0102a" stroke-width="0.8" />
<circle cx="317.27" cy="507.38" r="0.95" fill="#b0102a"/>
<circle cx="319.14" cy="508.52" r="0.95" fill="#b0102a"/>
<circle cx="314.09" cy="507.19" r="0.95" fill="#b0102a"/>
<circle cx="320.98" cy="512.08" r="0.95" fill="#b0102a"/>
<circle cx="319.88" cy="511.21" r="0.95" fill="#b0102a"/>
<circle cx="312.31" cy="509.20" r="0.95" fill="#b0102a"/>
<line x1="334.50" y1="505.20" x2="334.50" y2="511.80" stroke="#b0102a" stroke-width="0.8" />
<line x1="333.10" y1="505.20" x2="335.90" y2="505.20" stroke="#b0102a" stroke-width="0.8" />
<line x1="333.10" y1="511.80" x2="335.90" y2="511.80" stroke="#b0102a" stroke-width="0.8" />
<circle cx="334.48" cy="505.20" r="0.95" fill="#b0102a"/>
<circle cx="338.57" cy="507.37" r="0.95" fill="#b0102a"/>
<circle cx="331.39" cy="511.22" r="0.95" fill="#b0102a"/>
<circle cx="331.12" cy="512.17" r="0.95" fill="#b0102a"/>
<circle cx="334.08" cy="508.95" r="0.95" fill="#b0102a"/>
<circle cx="333.09" cy="508.37" r="0.95" fill="#b0102a"/>
<line x1="352.70" y1="496.60" x2="352.70" y2="505.80" stroke="#b0102a" stroke-width="0.8" />
<line x1="351.30" y1="496.60" x2="354.10" y2="496.60" stroke="#b0102a" stroke-width="0.8" />
<line x1="351.30" y1="505.80" x2="354.10" y2="505.80" stroke="#b0102a" stroke-width="0.8" />
<circle cx="349.88" cy="495.66" r="0.95" fill="#b0102a"/>
<circle cx="355.99" cy="498.03" r="0.95" fill="#b0102a"/>
<circle cx="355.22" cy="497.71" r="0.95" fill="#b0102a"/>
<circle cx="356.92" cy="505.91" r="0.95" fill="#b0102a"/>
<circle cx="354.99" cy="504.34" r="0.95" fill="#b0102a"/>
<circle cx="353.43" cy="503.95" r="0.95" fill="#b0102a"/>
<path d="M299.20,506.50 L316.50,492.70 L334.50,488.80 L352.70,485.00" fill="none" stroke="#1d5588" stroke-width="1.2" stroke-linejoin="round"/>
<line x1="299.20" y1="501.10" x2="299.20" y2="511.90" stroke="#163e66" stroke-width="0.8" />
<line x1="297.80" y1="501.10" x2="300.60" y2="501.10" stroke="#163e66" stroke-width="0.8" />
<line x1="297.80" y1="511.90" x2="300.60" y2="511.90" stroke="#163e66" stroke-width="0.8" />
<circle cx="303.32" cy="501.45" r="0.95" fill="#163e66"/>
<circle cx="294.91" cy="513.50" r="0.95" fill="#163e66"/>
<circle cx="296.36" cy="501.17" r="0.95" fill="#163e66"/>
<circle cx="300.56" cy="504.33" r="0.95" fill="#163e66"/>
<circle cx="302.71" cy="502.73" r="0.95" fill="#163e66"/>
<circle cx="303.34" cy="503.97" r="0.95" fill="#163e66"/>
<line x1="316.50" y1="488.10" x2="316.50" y2="497.30" stroke="#163e66" stroke-width="0.8" />
<line x1="315.10" y1="488.10" x2="317.90" y2="488.10" stroke="#163e66" stroke-width="0.8" />
<line x1="315.10" y1="497.30" x2="317.90" y2="497.30" stroke="#163e66" stroke-width="0.8" />
<circle cx="317.41" cy="497.87" r="0.95" fill="#163e66"/>
<circle cx="318.17" cy="497.77" r="0.95" fill="#163e66"/>
<circle cx="318.37" cy="487.30" r="0.95" fill="#163e66"/>
<circle cx="319.93" cy="493.77" r="0.95" fill="#163e66"/>
<circle cx="314.80" cy="488.99" r="0.95" fill="#163e66"/>
<circle cx="319.65" cy="493.69" r="0.95" fill="#163e66"/>
<line x1="334.50" y1="486.50" x2="334.50" y2="491.10" stroke="#163e66" stroke-width="0.8" />
<line x1="333.10" y1="486.50" x2="335.90" y2="486.50" stroke="#163e66" stroke-width="0.8" />
<line x1="333.10" y1="491.10" x2="335.90" y2="491.10" stroke="#163e66" stroke-width="0.8" />
<circle cx="338.44" cy="490.44" r="0.95" fill="#163e66"/>
<circle cx="338.65" cy="489.20" r="0.95" fill="#163e66"/>
<circle cx="336.29" cy="489.47" r="0.95" fill="#163e66"/>
<circle cx="332.33" cy="491.53" r="0.95" fill="#163e66"/>
<circle cx="332.81" cy="490.48" r="0.95" fill="#163e66"/>
<circle cx="338.59" cy="489.70" r="0.95" fill="#163e66"/>
<line x1="352.70" y1="481.60" x2="352.70" y2="488.40" stroke="#163e66" stroke-width="0.8" />
<line x1="351.30" y1="481.60" x2="354.10" y2="481.60" stroke="#163e66" stroke-width="0.8" />
<line x1="351.30" y1="488.40" x2="354.10" y2="488.40" stroke="#163e66" stroke-width="0.8" />
<circle cx="349.48" cy="487.87" r="0.95" fill="#163e66"/>
<circle cx="354.21" cy="482.22" r="0.95" fill="#163e66"/>
<circle cx="348.64" cy="485.28" r="0.95" fill="#163e66"/>
<circle cx="348.49" cy="488.76" r="0.95" fill="#163e66"/>
<circle cx="352.76" cy="485.15" r="0.95" fill="#163e66"/>
<circle cx="351.88" cy="486.42" r="0.95" fill="#163e66"/>
<path d="M297.40,492.35L297.40,494.65M298.40,492.93L296.40,494.07M298.40,494.07L296.40,492.93" stroke="#231f20" stroke-width="0.85" fill="none"/>
<path d="M301.00,492.35L301.00,494.65M302.00,492.93L300.00,494.07M302.00,494.07L300.00,492.93" stroke="#231f20" stroke-width="0.85" fill="none"/>
<path d="M312.90,480.75L312.90,483.05M313.90,481.32L311.90,482.47M313.90,482.47L311.90,481.32" stroke="#231f20" stroke-width="0.85" fill="none"/>
<path d="M316.50,480.75L316.50,483.05M317.50,481.32L315.50,482.47M317.50,482.47L315.50,481.32" stroke="#231f20" stroke-width="0.85" fill="none"/>
<path d="M320.10,480.75L320.10,483.05M321.10,481.32L319.10,482.47M321.10,482.47L319.10,481.32" stroke="#231f20" stroke-width="0.85" fill="none"/>
<path d="M330.90,480.05L330.90,482.35M331.90,480.62L329.90,481.77M331.90,481.77L329.90,480.62" stroke="#231f20" stroke-width="0.85" fill="none"/>
<path d="M334.50,480.05L334.50,482.35M335.50,480.62L333.50,481.77M335.50,481.77L333.50,480.62" stroke="#231f20" stroke-width="0.85" fill="none"/>
<path d="M338.10,480.05L338.10,482.35M339.10,480.62L337.10,481.77M339.10,481.77L337.10,480.62" stroke="#231f20" stroke-width="0.85" fill="none"/>
<path d="M350.90,474.35L350.90,476.65M351.90,474.93L349.90,476.07M351.90,476.07L349.90,474.93" stroke="#231f20" stroke-width="0.85" fill="none"/>
<path d="M354.50,474.35L354.50,476.65M355.50,474.93L353.50,476.07M355.50,476.07L353.50,474.93" stroke="#231f20" stroke-width="0.85" fill="none"/>
<text x="320.60" y="564.17" font-size="8.94" text-anchor="middle" stroke="#231f20" stroke-width="0.14" textLength="33.70" lengthAdjust="spacingAndGlyphs">Time after</text>
<text x="320.60" y="575.12" font-size="8.94" text-anchor="middle" stroke="#231f20" stroke-width="0.14" textLength="78.70" lengthAdjust="spacingAndGlyphs">transplantation (weeks)</text>
<text x="0" y="0" transform="translate(259.80,503.80) rotate(-90)" font-size="8.6" text-anchor="middle" stroke="#231f20" stroke-width="0.14" textLength="60.80" lengthAdjust="spacingAndGlyphs">Donor derived (%)</text>
<text x="382.39" y="444.70" font-size="11.2" font-weight="bold" stroke="#231f20" stroke-width="0.3" textLength="8.62" lengthAdjust="spacingAndGlyphs">P</text>
<line x1="414.30" y1="464.70" x2="414.30" y2="539.30" stroke="#231f20" stroke-width="1.1" />
<line x1="412.10" y1="539.30" x2="414.30" y2="539.30" stroke="#231f20" stroke-width="1.1" />
<text x="409.40" y="541.98" font-size="8.28" text-anchor="end" stroke="#231f20" stroke-width="0.14" textLength="3.85" lengthAdjust="spacingAndGlyphs">0</text>
<line x1="412.10" y1="525.14" x2="414.30" y2="525.14" stroke="#231f20" stroke-width="1.1" />
<text x="409.40" y="527.82" font-size="8.28" text-anchor="end" stroke="#231f20" stroke-width="0.14" textLength="7.70" lengthAdjust="spacingAndGlyphs">20</text>
<line x1="412.10" y1="510.98" x2="414.30" y2="510.98" stroke="#231f20" stroke-width="1.1" />
<text x="409.40" y="513.66" font-size="8.28" text-anchor="end" stroke="#231f20" stroke-width="0.14" textLength="7.70" lengthAdjust="spacingAndGlyphs">40</text>
<line x1="412.10" y1="496.82" x2="414.30" y2="496.82" stroke="#231f20" stroke-width="1.1" />
<text x="409.40" y="499.50" font-size="8.28" text-anchor="end" stroke="#231f20" stroke-width="0.14" textLength="7.70" lengthAdjust="spacingAndGlyphs">60</text>
<line x1="412.10" y1="482.66" x2="414.30" y2="482.66" stroke="#231f20" stroke-width="1.1" />
<text x="409.40" y="485.34" font-size="8.28" text-anchor="end" stroke="#231f20" stroke-width="0.14" textLength="7.70" lengthAdjust="spacingAndGlyphs">80</text>
<line x1="412.10" y1="468.50" x2="414.30" y2="468.50" stroke="#231f20" stroke-width="1.1" />
<text x="409.40" y="471.18" font-size="8.28" text-anchor="end" stroke="#231f20" stroke-width="0.14" textLength="11.55" lengthAdjust="spacingAndGlyphs">100</text>
<line x1="414.30" y1="539.30" x2="465.50" y2="539.30" stroke="#231f20" stroke-width="1.1" />
<line x1="423.00" y1="539.30" x2="423.00" y2="541.50" stroke="#231f20" stroke-width="1.1" />
<line x1="457.30" y1="539.30" x2="457.30" y2="541.50" stroke="#231f20" stroke-width="1.1" />
<rect x="420.20" y="512.40" width="5.60" height="26.90" fill="#1c5a8e" />
<rect x="420.20" y="497.53" width="5.60" height="14.87" fill="#3cb44b" />
<rect x="420.20" y="468.50" width="5.60" height="29.03" fill="#5b2c83" />
<line x1="423.00" y1="465.67" x2="423.00" y2="468.50" stroke="#111" stroke-width="0.8" />
<line x1="421.70" y1="465.67" x2="424.30" y2="465.67" stroke="#111" stroke-width="0.8" />
<line x1="420.80" y1="512.40" x2="425.20" y2="512.40" stroke="#1a1a1a" stroke-width="0.9" />
<line x1="423.00" y1="510.20" x2="423.00" y2="512.40" stroke="#111" stroke-width="0.7" />
<line x1="421.80" y1="510.20" x2="424.20" y2="510.20" stroke="#111" stroke-width="0.7" />
<line x1="420.80" y1="497.53" x2="425.20" y2="497.53" stroke="#1a1a1a" stroke-width="0.9" />
<line x1="423.00" y1="495.33" x2="423.00" y2="497.53" stroke="#111" stroke-width="0.7" />
<line x1="421.80" y1="495.33" x2="424.20" y2="495.33" stroke="#111" stroke-width="0.7" />
<rect x="454.50" y="523.37" width="5.60" height="15.93" fill="#1c5a8e" />
<rect x="454.50" y="513.46" width="5.60" height="9.91" fill="#3cb44b" />
<rect x="454.50" y="468.50" width="5.60" height="44.96" fill="#5b2c83" />
<line x1="457.30" y1="465.67" x2="457.30" y2="468.50" stroke="#111" stroke-width="0.8" />
<line x1="456.00" y1="465.67" x2="458.60" y2="465.67" stroke="#111" stroke-width="0.8" />
<line x1="455.10" y1="523.37" x2="459.50" y2="523.37" stroke="#1a1a1a" stroke-width="0.9" />
<line x1="457.30" y1="521.17" x2="457.30" y2="523.37" stroke="#111" stroke-width="0.7" />
<line x1="456.10" y1="521.17" x2="458.50" y2="521.17" stroke="#111" stroke-width="0.7" />
<line x1="455.10" y1="513.46" x2="459.50" y2="513.46" stroke="#1a1a1a" stroke-width="0.9" />
<line x1="457.30" y1="511.26" x2="457.30" y2="513.46" stroke="#111" stroke-width="0.7" />
<line x1="456.10" y1="511.26" x2="458.50" y2="511.26" stroke="#111" stroke-width="0.7" />
<line x1="425.80" y1="480.10" x2="454.50" y2="480.10" stroke="#8c8c8c" stroke-width="0.8" />
<text x="440.20" y="479.55" font-size="6.54" text-anchor="middle" stroke="#231f20" stroke-width="0.14">**</text>
<line x1="425.80" y1="532.00" x2="454.50" y2="532.00" stroke="#8c8c8c" stroke-width="0.8" />
<text x="440.20" y="531.05" font-size="6.54" text-anchor="middle" stroke="#231f20" stroke-width="0.14">**</text>
<line x1="425.80" y1="503.30" x2="454.50" y2="518.10" stroke="#333" stroke-width="0.7" />
<text x="439.70" y="509.85" font-size="6.54" text-anchor="middle" stroke="#231f20" stroke-width="0.14">*</text>
<rect x="472.80" y="473.30" width="4.80" height="4.80" fill="#5b2c83" />
<text x="481.70" y="478.27" font-size="7.96" stroke="#231f20" stroke-width="0.14" textLength="26.70" lengthAdjust="spacingAndGlyphs">Myeloid</text>
<rect x="472.80" y="484.50" width="4.80" height="4.80" fill="#3cb44b" />
<text x="481.70" y="489.47" font-size="7.96" stroke="#231f20" stroke-width="0.14" textLength="37.30" lengthAdjust="spacingAndGlyphs">T lymphoid</text>
<rect x="472.80" y="494.90" width="4.80" height="4.80" fill="#1c5a8e" />
<text x="481.70" y="499.87" font-size="7.96" stroke="#231f20" stroke-width="0.14" textLength="37.80" lengthAdjust="spacingAndGlyphs">B lymphoid</text>
<text x="423.40" y="551.68" font-size="8.28" text-anchor="middle" stroke="#231f20" stroke-width="0.14" textLength="22.90" lengthAdjust="spacingAndGlyphs">Vector</text>
<text x="457.50" y="551.68" font-size="8.28" text-anchor="middle" stroke="#231f20" stroke-width="0.14" textLength="35.70" lengthAdjust="spacingAndGlyphs">Sphk2 OE</text>
<text x="441.00" y="563.92" font-size="8.94" text-anchor="middle" stroke="#231f20" stroke-width="0.14" textLength="48.50" lengthAdjust="spacingAndGlyphs">16 weeks after</text>
<text x="440.50" y="575.22" font-size="8.94" text-anchor="middle" stroke="#231f20" stroke-width="0.14" textLength="50.80" lengthAdjust="spacingAndGlyphs">transplantation</text>
<text x="0" y="0" transform="translate(391.10,504.10) rotate(-90)" font-size="8.6" text-anchor="middle" stroke="#231f20" stroke-width="0.14" textLength="61.40" lengthAdjust="spacingAndGlyphs">Donor derived (%)</text>
<ellipse cx="9.0" cy="598.3" rx="3.3" ry="3.3" fill="none" stroke="#231f20" stroke-width="1.9"/>
<line x1="10.50" y1="601.90" x2="14.30" y2="602.00" stroke="#231f20" stroke-width="1.6" />
<text x="85.30" y="594.18" font-size="8.28" text-anchor="middle" stroke="#231f20" stroke-width="0.14" textLength="55.30" lengthAdjust="spacingAndGlyphs">t-SNE analysis</text>
<path d="M39.2,605.1 L51.8,605.1 Q56.5,607 58.3,614 Q60,622 56,627.5 Q52,630.5 44,628.8 Q40,627.8 39.2,626.5 Z" fill="#5f88b3" fill-opacity="0.85"/>
<ellipse cx="68.2" cy="661.2" rx="15.2" ry="10.2" transform="rotate(30 68.2 661.2)" fill="#e8a2ae" fill-opacity="0.8"/>
<ellipse cx="108.3" cy="667.0" rx="21.8" ry="5.9" fill="#b4deb6" fill-opacity="0.9"/>
<circle cx="42.00" cy="607.40" r="2.20" fill="#1d4f7e"/>
<circle cx="53.20" cy="618.10" r="2.20" fill="#1d4f7e"/>
<circle cx="42.80" cy="622.60" r="2.20" fill="#1d4f7e"/>
<circle cx="57.60" cy="654.00" r="2.20" fill="#c0183a"/>
<circle cx="76.00" cy="660.00" r="2.20" fill="#c0183a"/>
<circle cx="74.80" cy="669.10" r="2.20" fill="#c0183a"/>
<circle cx="90.00" cy="668.10" r="2.20" fill="#3cb44b"/>
<circle cx="108.20" cy="668.10" r="2.20" fill="#3cb44b"/>
<circle cx="126.60" cy="669.70" r="2.20" fill="#3cb44b"/>
<line x1="39.00" y1="600.40" x2="39.00" y2="672.40" stroke="#231f20" stroke-width="1.1" />
<line x1="36.80" y1="618.60" x2="39.00" y2="618.60" stroke="#231f20" stroke-width="1.1" />
<text x="35.60" y="621.17" font-size="7.96" text-anchor="end" stroke="#231f20" stroke-width="0.14" textLength="11.55" lengthAdjust="spacingAndGlyphs">200</text>
<line x1="36.80" y1="633.40" x2="39.00" y2="633.40" stroke="#231f20" stroke-width="1.1" />
<text x="35.60" y="635.97" font-size="7.96" text-anchor="end" stroke="#231f20" stroke-width="0.14" textLength="11.55" lengthAdjust="spacingAndGlyphs">100</text>
<line x1="36.80" y1="648.60" x2="39.00" y2="648.60" stroke="#231f20" stroke-width="1.1" />
<text x="35.60" y="651.17" font-size="7.96" text-anchor="end" stroke="#231f20" stroke-width="0.14" textLength="3.85" lengthAdjust="spacingAndGlyphs">0</text>
<line x1="36.80" y1="663.60" x2="39.00" y2="663.60" stroke="#231f20" stroke-width="1.1" />
<text x="35.60" y="666.17" font-size="7.96" text-anchor="end" stroke="#231f20" stroke-width="0.14" textLength="15.85" lengthAdjust="spacingAndGlyphs">−100</text>
<line x1="39.00" y1="672.40" x2="130.00" y2="672.40" stroke="#231f20" stroke-width="1.1" />
<line x1="49.20" y1="672.40" x2="49.20" y2="674.60" stroke="#231f20" stroke-width="1.1" />
<line x1="62.30" y1="672.40" x2="62.30" y2="674.60" stroke="#231f20" stroke-width="1.1" />
<line x1="74.40" y1="672.40" x2="74.40" y2="674.60" stroke="#231f20" stroke-width="1.1" />
<line x1="86.60" y1="672.40" x2="86.60" y2="674.60" stroke="#231f20" stroke-width="1.1" />
<line x1="99.70" y1="672.40" x2="99.70" y2="674.60" stroke="#231f20" stroke-width="1.1" />
<line x1="111.80" y1="672.40" x2="111.80" y2="674.60" stroke="#231f20" stroke-width="1.1" />
<line x1="123.90" y1="672.40" x2="123.90" y2="674.60" stroke="#231f20" stroke-width="1.1" />
<text x="49.20" y="682.65" font-size="7.63" text-anchor="middle" stroke="#231f20" stroke-width="0.14" textLength="12.20" lengthAdjust="spacingAndGlyphs">−100</text>
<text x="62.30" y="682.65" font-size="7.63" text-anchor="middle" stroke="#231f20" stroke-width="0.14" textLength="9.10" lengthAdjust="spacingAndGlyphs">−50</text>
<text x="74.40" y="682.65" font-size="7.63" text-anchor="middle" stroke="#231f20" stroke-width="0.14">0</text>
<text x="86.60" y="682.65" font-size="7.63" text-anchor="middle" stroke="#231f20" stroke-width="0.14" textLength="7.70" lengthAdjust="spacingAndGlyphs">50</text>
<text x="99.70" y="682.65" font-size="7.63" text-anchor="middle" stroke="#231f20" stroke-width="0.14" textLength="10.10" lengthAdjust="spacingAndGlyphs">100</text>
<text x="111.80" y="682.65" font-size="7.63" text-anchor="middle" stroke="#231f20" stroke-width="0.14" textLength="10.10" lengthAdjust="spacingAndGlyphs">150</text>
<text x="123.90" y="682.65" font-size="7.63" text-anchor="middle" stroke="#231f20" stroke-width="0.14" textLength="10.10" lengthAdjust="spacingAndGlyphs">200</text>
<text x="86.30" y="694.87" font-size="7.96" text-anchor="middle" stroke="#231f20" stroke-width="0.14" textLength="18.80" lengthAdjust="spacingAndGlyphs">t-SNE1</text>
<text x="0" y="0" transform="translate(12.38,642.80) rotate(-90)" font-size="7.3" text-anchor="middle" stroke="#231f20" stroke-width="0.14" textLength="18.80" lengthAdjust="spacingAndGlyphs">t-SNE2</text>
<circle cx="105.00" cy="603.70" r="2.30" fill="#3cb44b"/>
<text x="110.80" y="606.27" font-size="7.96" stroke="#231f20" stroke-width="0.14" textLength="32.50" lengthAdjust="spacingAndGlyphs">yHSC WT</text>
<circle cx="105.00" cy="613.80" r="2.30" fill="#1d5588"/>
<text x="110.80" y="616.37" font-size="7.96" stroke="#231f20" stroke-width="0.14" textLength="32.50" lengthAdjust="spacingAndGlyphs">oHSC WT</text>
<circle cx="105.00" cy="623.10" r="2.30" fill="#c8183c"/>
<text x="110.80" y="625.67" font-size="7.96" stroke="#231f20" stroke-width="0.14"><tspan textLength="42.90" lengthAdjust="spacingAndGlyphs">oHSC Sphk2</tspan><tspan font-size="4.776" dy="-3.18" dx="0.3" stroke-width="0.08" textLength="8.30" lengthAdjust="spacingAndGlyphs">Δ/Δ</tspan></text>
<text x="178.78" y="602.70" font-size="11.2" font-weight="bold" stroke="#231f20" stroke-width="0.3" textLength="7.18" lengthAdjust="spacingAndGlyphs">R</text>
<rect x="216.55" y="597.10" width="4.80" height="4.80" fill="#3cb44b" />
<text x="225.10" y="601.87" font-size="7.96" stroke="#231f20" stroke-width="0.14" textLength="32.20" lengthAdjust="spacingAndGlyphs">yHSC WT</text>
<rect x="265.85" y="597.10" width="4.80" height="4.80" fill="#1c5a8e" />
<text x="275.50" y="601.87" font-size="7.96" stroke="#231f20" stroke-width="0.14" textLength="32.00" lengthAdjust="spacingAndGlyphs">oHSC WT</text>
<rect x="315.95" y="597.10" width="4.80" height="4.80" fill="#c8183c" />
<text x="324.50" y="601.87" font-size="7.96" stroke="#231f20" stroke-width="0.14"><tspan textLength="40.50" lengthAdjust="spacingAndGlyphs">oHSC Sphk2</tspan><tspan font-size="4.776" dy="-3.18" dx="0.3" stroke-width="0.08" textLength="8.50" lengthAdjust="spacingAndGlyphs">Δ/Δ</tspan></text>
<text x="248.80" y="614.17" font-size="7.96" text-anchor="middle" stroke="#231f20" stroke-width="0.14" textLength="49.70" lengthAdjust="spacingAndGlyphs">Age-repressed</text>
<text x="248.70" y="623.27" font-size="7.96" text-anchor="middle" stroke="#231f20" stroke-width="0.14" textLength="19.50" lengthAdjust="spacingAndGlyphs">genes</text>
<text x="310.00" y="614.57" font-size="7.96" text-anchor="middle" stroke="#231f20" stroke-width="0.14" textLength="44.00" lengthAdjust="spacingAndGlyphs">Age-induced</text>
<text x="310.00" y="623.82" font-size="7.96" text-anchor="middle" stroke="#231f20" stroke-width="0.14" textLength="19.50" lengthAdjust="spacingAndGlyphs">genes</text>
<text x="376.20" y="623.82" font-size="7.96" text-anchor="middle" stroke="#231f20" stroke-width="0.14" textLength="32.50" lengthAdjust="spacingAndGlyphs">Lymphoid</text>
<text x="429.40" y="623.07" font-size="7.96" text-anchor="middle" stroke="#231f20" stroke-width="0.14" textLength="13.75" lengthAdjust="spacingAndGlyphs">CLP</text>
<text x="458.70" y="623.07" font-size="7.96" text-anchor="middle" stroke="#231f20" stroke-width="0.14" textLength="27.50" lengthAdjust="spacingAndGlyphs">Myeloid</text>
<text x="492.50" y="613.82" font-size="7.96" text-anchor="middle" stroke="#231f20" stroke-width="0.14" textLength="14.00" lengthAdjust="spacingAndGlyphs">HSC</text>
<text x="496.20" y="623.07" font-size="7.96" text-anchor="middle" stroke="#231f20" stroke-width="0.14" textLength="31.50" lengthAdjust="spacingAndGlyphs">stemness</text>
<text x="192.20" y="634.19" font-size="7.19" text-anchor="end" stroke="#231f20" stroke-width="0.14" textLength="13.70" lengthAdjust="spacingAndGlyphs">High</text>
<text x="192.20" y="645.19" font-size="7.19" text-anchor="end" stroke="#231f20" stroke-width="0.14" textLength="11.60" lengthAdjust="spacingAndGlyphs">Low</text>
<defs><linearGradient id="zg" x1="0" y1="0" x2="0" y2="1"><stop offset="0" stop-color="#e8202a"/><stop offset="0.5" stop-color="#ffffff"/><stop offset="1" stop-color="#10206a"/></linearGradient></defs>
<rect x="193.70" y="628.00" width="2.70" height="16.60" fill="url(#zg)" />
<text transform="translate(198.0,636.3) rotate(90)" font-size="6" text-anchor="middle" x="0" y="0">z score</text>
<rect x="208.80" y="627.40" width="5.10" height="22.20" fill="#3cb44b" />
<rect x="208.80" y="650.80" width="5.10" height="22.00" fill="#1c5a8e" />
<rect x="208.80" y="674.20" width="5.10" height="22.40" fill="#c8183c" />
<rect x="217.00" y="627.40" width="3.15" height="22.20" fill="#f08c8c"/>
<rect x="220.00" y="627.40" width="3.15" height="22.20" fill="#f4a4a4"/>
<rect x="223.00" y="627.40" width="3.15" height="22.20" fill="#ee8484"/>
<rect x="226.00" y="627.40" width="3.15" height="22.20" fill="#f4a8a8"/>
<rect x="229.00" y="627.40" width="4.15" height="22.20" fill="#f09090"/>
<rect x="233.00" y="627.40" width="4.15" height="22.20" fill="#f4a0a0"/>
<rect x="237.00" y="627.40" width="4.15" height="22.20" fill="#f8d0d0"/>
<rect x="241.00" y="627.40" width="4.15" height="22.20" fill="#f4b0b0"/>
<rect x="245.00" y="627.40" width="7.15" height="22.20" fill="#e83a3a"/>
<rect x="252.00" y="627.40" width="10.15" height="22.20" fill="#ea3434"/>
<rect x="262.00" y="627.40" width="18.85" height="22.20" fill="#ee1c24"/>
<rect x="217.00" y="650.80" width="28.15" height="22.00" fill="#0f3a6c"/>
<rect x="245.00" y="650.80" width="17.15" height="22.00" fill="#1c4577"/>
<rect x="262.00" y="650.80" width="8.15" height="22.00" fill="#4a6d96"/>
<rect x="270.00" y="650.80" width="4.15" height="22.00" fill="#5a7aa0"/>
<rect x="274.00" y="650.80" width="6.85" height="22.00" fill="#4a6d96"/>
<rect x="217.00" y="674.20" width="5.15" height="22.40" fill="#f08080"/>
<rect x="222.00" y="674.20" width="4.15" height="22.40" fill="#f4a4a4"/>
<rect x="226.00" y="674.20" width="5.15" height="22.40" fill="#ee7070"/>
<rect x="231.00" y="674.20" width="3.15" height="22.40" fill="#f6b4b4"/>
<rect x="234.00" y="674.20" width="6.15" height="22.40" fill="#e85a5a"/>
<rect x="240.00" y="674.20" width="5.15" height="22.40" fill="#ee6e6e"/>
<rect x="245.00" y="674.20" width="7.15" height="22.40" fill="#f8f2f2"/>
<rect x="252.00" y="674.20" width="4.15" height="22.40" fill="#f2e6ea"/>
<rect x="256.00" y="674.20" width="6.15" height="22.40" fill="#dde4ee"/>
<rect x="262.00" y="674.20" width="6.15" height="22.40" fill="#a8b8cc"/>
<rect x="268.00" y="674.20" width="4.15" height="22.40" fill="#8aa0bc"/>
<rect x="272.00" y="674.20" width="4.15" height="22.40" fill="#b4c2d4"/>
<rect x="276.00" y="674.20" width="4.85" height="22.40" fill="#8aa0bc"/>
<rect x="283.10" y="627.40" width="5.05" height="22.20" fill="#3a5f8e"/>
<rect x="288.00" y="627.40" width="2.15" height="22.20" fill="#6a86aa"/>
<rect x="290.00" y="627.40" width="4.15" height="22.20" fill="#0e3060"/>
<rect x="294.00" y="627.40" width="16.15" height="22.20" fill="#4a6a96"/>
<rect x="310.00" y="627.40" width="8.15" height="22.20" fill="#3e6090"/>
<rect x="318.00" y="627.40" width="7.15" height="22.20" fill="#5a7aa2"/>
<rect x="325.00" y="627.40" width="3.15" height="22.20" fill="#0e3060"/>
<rect x="328.00" y="627.40" width="3.15" height="22.20" fill="#e02a30"/>
<rect x="331.00" y="627.40" width="2.15" height="22.20" fill="#f4b4b4"/>
<rect x="333.00" y="627.40" width="4.35" height="22.20" fill="#e02a30"/>
<rect x="283.10" y="650.80" width="4.05" height="22.00" fill="#dfe6ee"/>
<rect x="287.00" y="650.80" width="2.15" height="22.00" fill="#7890b0"/>
<rect x="289.00" y="650.80" width="2.15" height="22.00" fill="#ffffff"/>
<rect x="291.00" y="650.80" width="3.15" height="22.00" fill="#f4c0c0"/>
<rect x="294.00" y="650.80" width="33.15" height="22.00" fill="#e81e26"/>
<rect x="327.00" y="650.80" width="2.15" height="22.00" fill="#f4d0d0"/>
<rect x="329.00" y="650.80" width="2.15" height="22.00" fill="#ffffff"/>
<rect x="331.00" y="650.80" width="2.15" height="22.00" fill="#f4a0a0"/>
<rect x="333.00" y="650.80" width="4.35" height="22.00" fill="#5a7aa0"/>
<rect x="283.10" y="674.20" width="3.05" height="22.40" fill="#e83838"/>
<rect x="286.00" y="674.20" width="4.15" height="22.40" fill="#ee5050"/>
<rect x="290.00" y="674.20" width="4.15" height="22.40" fill="#e82828"/>
<rect x="294.00" y="674.20" width="6.15" height="22.40" fill="#a0b2c8"/>
<rect x="300.00" y="674.20" width="10.15" height="22.40" fill="#b8c6d6"/>
<rect x="310.00" y="674.20" width="6.15" height="22.40" fill="#d8e0ea"/>
<rect x="316.00" y="674.20" width="2.15" height="22.40" fill="#f8f8f8"/>
<rect x="318.00" y="674.20" width="7.15" height="22.40" fill="#7a92b2"/>
<rect x="325.00" y="674.20" width="3.15" height="22.40" fill="#f4f0f0"/>
<rect x="328.00" y="674.20" width="5.15" height="22.40" fill="#0e3060"/>
<rect x="333.00" y="674.20" width="4.35" height="22.40" fill="#7890b0"/>
<rect x="339.80" y="627.40" width="12.35" height="22.20" fill="#e8262a"/>
<rect x="352.00" y="627.40" width="13.15" height="22.20" fill="#e63030"/>
<rect x="365.00" y="627.40" width="15.15" height="22.20" fill="#e82a2a"/>
<rect x="380.00" y="627.40" width="10.15" height="22.20" fill="#e53232"/>
<rect x="390.00" y="627.40" width="6.15" height="22.20" fill="#f08080"/>
<rect x="396.00" y="627.40" width="6.15" height="22.20" fill="#f4a4a4"/>
<rect x="402.00" y="627.40" width="4.15" height="22.20" fill="#f8d4d4"/>
<rect x="406.00" y="627.40" width="5.85" height="22.20" fill="#f0a0a0"/>
<rect x="339.80" y="650.80" width="12.35" height="22.00" fill="#3d5f8e"/>
<rect x="352.00" y="650.80" width="18.15" height="22.00" fill="#2c4e80"/>
<rect x="370.00" y="650.80" width="20.15" height="22.00" fill="#1e4276"/>
<rect x="390.00" y="650.80" width="21.85" height="22.00" fill="#0e3466"/>
<rect x="339.80" y="674.20" width="12.35" height="22.40" fill="#7088a8"/>
<rect x="352.00" y="674.20" width="8.15" height="22.40" fill="#98aac2"/>
<rect x="360.00" y="674.20" width="8.15" height="22.40" fill="#c0cad8"/>
<rect x="368.00" y="674.20" width="7.15" height="22.40" fill="#e4e8ee"/>
<rect x="375.00" y="674.20" width="15.15" height="22.40" fill="#f8f0f0"/>
<rect x="390.00" y="674.20" width="6.15" height="22.40" fill="#f29090"/>
<rect x="396.00" y="674.20" width="7.15" height="22.40" fill="#f4a8a8"/>
<rect x="403.00" y="674.20" width="8.85" height="22.40" fill="#e85050"/>
<rect x="414.10" y="627.40" width="8.05" height="22.20" fill="#e84040"/>
<rect x="422.00" y="627.40" width="9.15" height="22.20" fill="#e81818"/>
<rect x="431.00" y="627.40" width="5.15" height="22.20" fill="#f09090"/>
<rect x="436.00" y="627.40" width="4.15" height="22.20" fill="#f6f0f0"/>
<rect x="440.00" y="627.40" width="2.15" height="22.20" fill="#c8ccd4"/>
<rect x="442.00" y="627.40" width="3.15" height="22.20" fill="#eeeeee"/>
<rect x="414.10" y="650.80" width="8.05" height="22.00" fill="#1a4070"/>
<rect x="422.00" y="650.80" width="10.15" height="22.00" fill="#5a7aa0"/>
<rect x="432.00" y="650.80" width="13.15" height="22.00" fill="#123a6a"/>
<rect x="414.10" y="674.20" width="3.05" height="22.40" fill="#f8e8e8"/>
<rect x="417.00" y="674.20" width="5.15" height="22.40" fill="#f4c8c8"/>
<rect x="422.00" y="674.20" width="9.15" height="22.40" fill="#7890b0"/>
<rect x="431.00" y="674.20" width="6.15" height="22.40" fill="#f0a0a0"/>
<rect x="437.00" y="674.20" width="8.15" height="22.40" fill="#e83838"/>
<rect x="447.30" y="627.40" width="1.85" height="22.20" fill="#e02a30"/>
<rect x="449.00" y="627.40" width="3.15" height="22.20" fill="#123a6a"/>
<rect x="452.00" y="627.40" width="20.05" height="22.20" fill="#3a6088"/>
<rect x="447.30" y="650.80" width="1.85" height="22.00" fill="#123a6a"/>
<rect x="449.00" y="650.80" width="2.15" height="22.00" fill="#ffffff"/>
<rect x="451.00" y="650.80" width="21.05" height="22.00" fill="#e82020"/>
<rect x="447.30" y="674.20" width="1.85" height="22.40" fill="#123a6a"/>
<rect x="449.00" y="674.20" width="3.15" height="22.40" fill="#f4f4f4"/>
<rect x="452.00" y="674.20" width="20.05" height="22.40" fill="#7890b0"/>
<rect x="473.60" y="627.40" width="28.55" height="22.20" fill="#e82020"/>
<rect x="502.00" y="627.40" width="4.15" height="22.20" fill="#f8e0e0"/>
<rect x="506.00" y="627.40" width="4.15" height="22.20" fill="#fff4f4"/>
<rect x="510.00" y="627.40" width="3.15" height="22.20" fill="#f4b8b8"/>
<rect x="513.00" y="627.40" width="7.15" height="22.20" fill="#8aa0bc"/>
<rect x="473.60" y="650.80" width="17.55" height="22.00" fill="#4a6a96"/>
<rect x="491.00" y="650.80" width="23.15" height="22.00" fill="#123a6a"/>
<rect x="514.00" y="650.80" width="6.15" height="22.00" fill="#4a6a96"/>
<rect x="473.60" y="674.20" width="8.55" height="22.40" fill="#a0b4c8"/>
<rect x="482.00" y="674.20" width="9.15" height="22.40" fill="#5a7898"/>
<rect x="491.00" y="674.20" width="6.15" height="22.40" fill="#f8f4f4"/>
<rect x="497.00" y="674.20" width="6.15" height="22.40" fill="#f4c4c4"/>
<rect x="503.00" y="674.20" width="17.15" height="22.40" fill="#e83838"/>
</svg></body></html>
